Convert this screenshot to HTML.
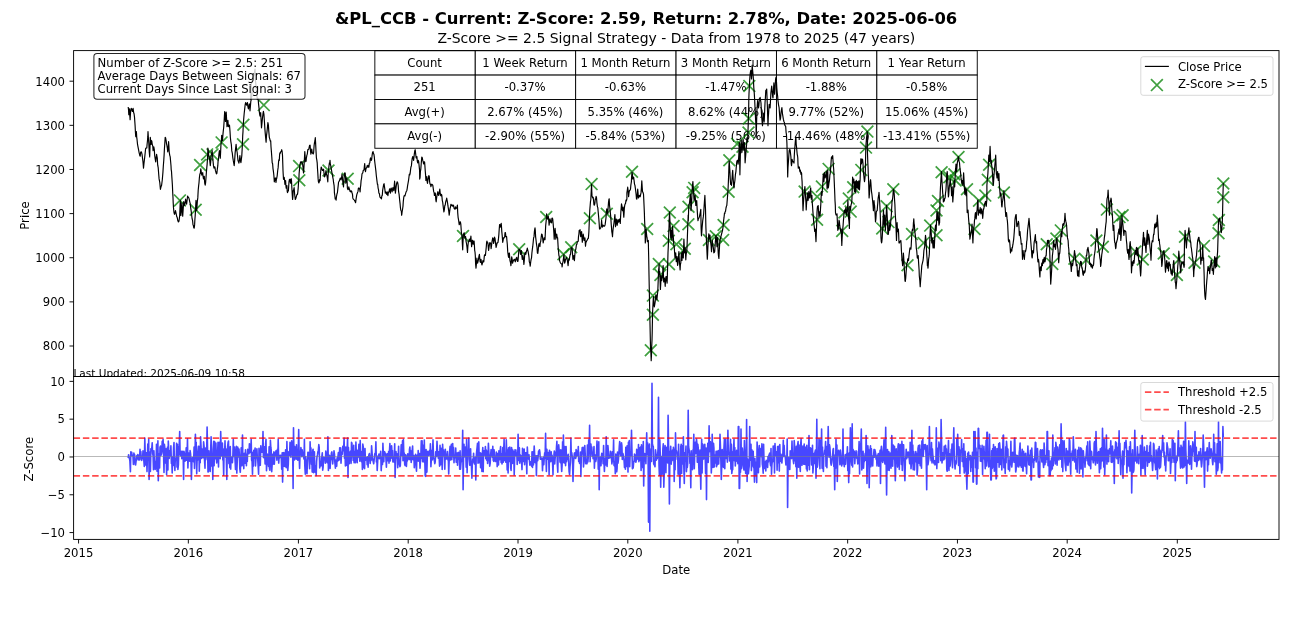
<!DOCTYPE html>
<html lang="en"><head><meta charset="utf-8"><title>&amp;PL_CCB Z-Score Signal Strategy</title>
<style>html,body{margin:0;padding:0;background:#fff;overflow:hidden}svg{display:block}text{font-family:"DejaVu Sans","Liberation Sans",sans-serif;fill:#000}</style></head><body>
<svg width="1292" height="634" viewBox="0 0 1292 634">
<rect width="1292" height="634" fill="#fff"/>
<defs>
<clipPath id="c1"><rect x="73.6" y="50.6" width="1205.4" height="325.9"/></clipPath>
<clipPath id="c2"><rect x="73.6" y="376.5" width="1205.4" height="162.89999999999998"/></clipPath>
</defs>
<g id="table" stroke="#000" stroke-width="0.93" fill="#fff">
<rect x="374.85" y="50.70" width="100.40" height="24.39"/>
<rect x="475.25" y="50.70" width="100.40" height="24.39"/>
<rect x="575.65" y="50.70" width="100.40" height="24.39"/>
<rect x="676.05" y="50.70" width="100.40" height="24.39"/>
<rect x="776.45" y="50.70" width="100.40" height="24.39"/>
<rect x="876.85" y="50.70" width="100.40" height="24.39"/>
<rect x="374.85" y="75.09" width="100.40" height="24.39"/>
<rect x="475.25" y="75.09" width="100.40" height="24.39"/>
<rect x="575.65" y="75.09" width="100.40" height="24.39"/>
<rect x="676.05" y="75.09" width="100.40" height="24.39"/>
<rect x="776.45" y="75.09" width="100.40" height="24.39"/>
<rect x="876.85" y="75.09" width="100.40" height="24.39"/>
<rect x="374.85" y="99.48" width="100.40" height="24.39"/>
<rect x="475.25" y="99.48" width="100.40" height="24.39"/>
<rect x="575.65" y="99.48" width="100.40" height="24.39"/>
<rect x="676.05" y="99.48" width="100.40" height="24.39"/>
<rect x="776.45" y="99.48" width="100.40" height="24.39"/>
<rect x="876.85" y="99.48" width="100.40" height="24.39"/>
<rect x="374.85" y="123.87" width="100.40" height="24.39"/>
<rect x="475.25" y="123.87" width="100.40" height="24.39"/>
<rect x="575.65" y="123.87" width="100.40" height="24.39"/>
<rect x="676.05" y="123.87" width="100.40" height="24.39"/>
<rect x="776.45" y="123.87" width="100.40" height="24.39"/>
<rect x="876.85" y="123.87" width="100.40" height="24.39"/>
</g>
<g id="tabletext" font-size="11.67px" text-anchor="middle">
<text x="424.65" y="66.80">Count</text>
<text x="525.05" y="66.80">1 Week Return</text>
<text x="625.45" y="66.80">1 Month Return</text>
<text x="725.85" y="66.80">3 Month Return</text>
<text x="826.25" y="66.80">6 Month Return</text>
<text x="926.65" y="66.80">1 Year Return</text>
<text x="424.65" y="91.19">251</text>
<text x="525.05" y="91.19">-0.37%</text>
<text x="625.45" y="91.19">-0.63%</text>
<text x="725.85" y="91.19">-1.47%</text>
<text x="826.25" y="91.19">-1.88%</text>
<text x="926.65" y="91.19">-0.58%</text>
<text x="424.65" y="115.58">Avg(+)</text>
<text x="525.05" y="115.58">2.67% (45%)</text>
<text x="625.45" y="115.58">5.35% (46%)</text>
<text x="725.85" y="115.58">8.62% (44%)</text>
<text x="826.25" y="115.58">9.77% (52%)</text>
<text x="926.65" y="115.58">15.06% (45%)</text>
<text x="424.65" y="139.97">Avg(-)</text>
<text x="525.05" y="139.97">-2.90% (55%)</text>
<text x="625.45" y="139.97">-5.84% (53%)</text>
<text x="725.85" y="139.97">-9.25% (56%)</text>
<text x="826.25" y="139.97">-14.46% (48%)</text>
<text x="926.65" y="139.97">-13.41% (55%)</text>
</g>
<g id="signals" stroke="#008000" stroke-opacity="0.75" stroke-width="1.75" fill="none" clip-path="url(#c1)">
<path d="M174.0 194.5l11.8 11.8m-11.8 0l11.8 -11.8"/>
<path d="M189.8 203.9l11.8 11.8m-11.8 0l11.8 -11.8"/>
<path d="M194.2 159.1l11.8 11.8m-11.8 0l11.8 -11.8"/>
<path d="M201.2 148.5l11.8 11.8m-11.8 0l11.8 -11.8"/>
<path d="M206.6 148.5l11.8 11.8m-11.8 0l11.8 -11.8"/>
<path d="M215.7 136.5l11.8 11.8m-11.8 0l11.8 -11.8"/>
<path d="M237.5 118.8l11.8 11.8m-11.8 0l11.8 -11.8"/>
<path d="M237.1 138.4l11.8 11.8m-11.8 0l11.8 -11.8"/>
<path d="M257.9 99.2l11.8 11.8m-11.8 0l11.8 -11.8"/>
<path d="M293.2 160.2l11.8 11.8m-11.8 0l11.8 -11.8"/>
<path d="M293.4 174.4l11.8 11.8m-11.8 0l11.8 -11.8"/>
<path d="M322.6 164.6l11.8 11.8m-11.8 0l11.8 -11.8"/>
<path d="M341.8 172.8l11.8 11.8m-11.8 0l11.8 -11.8"/>
<path d="M457.1 230.1l11.8 11.8m-11.8 0l11.8 -11.8"/>
<path d="M513.3 243.3l11.8 11.8m-11.8 0l11.8 -11.8"/>
<path d="M540.3 211.1l11.8 11.8m-11.8 0l11.8 -11.8"/>
<path d="M557.5 248.4l11.8 11.8m-11.8 0l11.8 -11.8"/>
<path d="M565.3 241.4l11.8 11.8m-11.8 0l11.8 -11.8"/>
<path d="M584.0 212.4l11.8 11.8m-11.8 0l11.8 -11.8"/>
<path d="M585.7 178.2l11.8 11.8m-11.8 0l11.8 -11.8"/>
<path d="M600.9 207.8l11.8 11.8m-11.8 0l11.8 -11.8"/>
<path d="M626.1 165.9l11.8 11.8m-11.8 0l11.8 -11.8"/>
<path d="M641.3 223.1l11.8 11.8m-11.8 0l11.8 -11.8"/>
<path d="M647.0 289.7l11.8 11.8m-11.8 0l11.8 -11.8"/>
<path d="M647.0 308.8l11.8 11.8m-11.8 0l11.8 -11.8"/>
<path d="M644.9 344.4l11.8 11.8m-11.8 0l11.8 -11.8"/>
<path d="M652.9 258.1l11.8 11.8m-11.8 0l11.8 -11.8"/>
<path d="M654.5 269.1l11.8 11.8m-11.8 0l11.8 -11.8"/>
<path d="M663.1 258.4l11.8 11.8m-11.8 0l11.8 -11.8"/>
<path d="M662.9 234.9l11.8 11.8m-11.8 0l11.8 -11.8"/>
<path d="M663.9 206.6l11.8 11.8m-11.8 0l11.8 -11.8"/>
<path d="M667.7 220.1l11.8 11.8m-11.8 0l11.8 -11.8"/>
<path d="M670.5 238.4l11.8 11.8m-11.8 0l11.8 -11.8"/>
<path d="M678.9 242.9l11.8 11.8m-11.8 0l11.8 -11.8"/>
<path d="M682.5 218.3l11.8 11.8m-11.8 0l11.8 -11.8"/>
<path d="M682.6 200.9l11.8 11.8m-11.8 0l11.8 -11.8"/>
<path d="M686.7 186.4l11.8 11.8m-11.8 0l11.8 -11.8"/>
<path d="M688.3 182.0l11.8 11.8m-11.8 0l11.8 -11.8"/>
<path d="M703.0 234.1l11.8 11.8m-11.8 0l11.8 -11.8"/>
<path d="M709.9 230.4l11.8 11.8m-11.8 0l11.8 -11.8"/>
<path d="M717.7 219.1l11.8 11.8m-11.8 0l11.8 -11.8"/>
<path d="M717.2 234.0l11.8 11.8m-11.8 0l11.8 -11.8"/>
<path d="M723.4 154.3l11.8 11.8m-11.8 0l11.8 -11.8"/>
<path d="M722.7 185.8l11.8 11.8m-11.8 0l11.8 -11.8"/>
<path d="M731.2 138.0l11.8 11.8m-11.8 0l11.8 -11.8"/>
<path d="M736.6 140.8l11.8 11.8m-11.8 0l11.8 -11.8"/>
<path d="M742.6 126.7l11.8 11.8m-11.8 0l11.8 -11.8"/>
<path d="M742.9 112.6l11.8 11.8m-11.8 0l11.8 -11.8"/>
<path d="M743.4 80.1l11.8 11.8m-11.8 0l11.8 -11.8"/>
<path d="M798.7 185.7l11.8 11.8m-11.8 0l11.8 -11.8"/>
<path d="M811.3 190.8l11.8 11.8m-11.8 0l11.8 -11.8"/>
<path d="M811.2 213.9l11.8 11.8m-11.8 0l11.8 -11.8"/>
<path d="M816.0 180.7l11.8 11.8m-11.8 0l11.8 -11.8"/>
<path d="M822.7 163.0l11.8 11.8m-11.8 0l11.8 -11.8"/>
<path d="M836.3 225.0l11.8 11.8m-11.8 0l11.8 -11.8"/>
<path d="M838.5 206.6l11.8 11.8m-11.8 0l11.8 -11.8"/>
<path d="M842.9 192.7l11.8 11.8m-11.8 0l11.8 -11.8"/>
<path d="M844.8 205.7l11.8 11.8m-11.8 0l11.8 -11.8"/>
<path d="M847.3 181.3l11.8 11.8m-11.8 0l11.8 -11.8"/>
<path d="M876.3 222.5l11.8 11.8m-11.8 0l11.8 -11.8"/>
<path d="M880.7 200.3l11.8 11.8m-11.8 0l11.8 -11.8"/>
<path d="M882.6 216.2l11.8 11.8m-11.8 0l11.8 -11.8"/>
<path d="M887.4 183.3l11.8 11.8m-11.8 0l11.8 -11.8"/>
<path d="M901.6 259.4l11.8 11.8m-11.8 0l11.8 -11.8"/>
<path d="M906.1 228.2l11.8 11.8m-11.8 0l11.8 -11.8"/>
<path d="M917.7 237.0l11.8 11.8m-11.8 0l11.8 -11.8"/>
<path d="M924.3 219.7l11.8 11.8m-11.8 0l11.8 -11.8"/>
<path d="M930.6 229.4l11.8 11.8m-11.8 0l11.8 -11.8"/>
<path d="M930.6 204.5l11.8 11.8m-11.8 0l11.8 -11.8"/>
<path d="M932.1 195.1l11.8 11.8m-11.8 0l11.8 -11.8"/>
<path d="M935.7 166.4l11.8 11.8m-11.8 0l11.8 -11.8"/>
<path d="M943.4 171.4l11.8 11.8m-11.8 0l11.8 -11.8"/>
<path d="M948.5 168.3l11.8 11.8m-11.8 0l11.8 -11.8"/>
<path d="M949.7 174.6l11.8 11.8m-11.8 0l11.8 -11.8"/>
<path d="M952.6 151.2l11.8 11.8m-11.8 0l11.8 -11.8"/>
<path d="M961.1 183.4l11.8 11.8m-11.8 0l11.8 -11.8"/>
<path d="M968.6 223.1l11.8 11.8m-11.8 0l11.8 -11.8"/>
<path d="M973.1 194.8l11.8 11.8m-11.8 0l11.8 -11.8"/>
<path d="M979.4 189.7l11.8 11.8m-11.8 0l11.8 -11.8"/>
<path d="M981.9 173.9l11.8 11.8m-11.8 0l11.8 -11.8"/>
<path d="M983.2 158.8l11.8 11.8m-11.8 0l11.8 -11.8"/>
<path d="M998.0 186.6l11.8 11.8m-11.8 0l11.8 -11.8"/>
<path d="M1040.8 238.4l11.8 11.8m-11.8 0l11.8 -11.8"/>
<path d="M1046.4 258.0l11.8 11.8m-11.8 0l11.8 -11.8"/>
<path d="M1050.5 232.7l11.8 11.8m-11.8 0l11.8 -11.8"/>
<path d="M1054.9 224.5l11.8 11.8m-11.8 0l11.8 -11.8"/>
<path d="M1068.5 252.9l11.8 11.8m-11.8 0l11.8 -11.8"/>
<path d="M1080.2 254.1l11.8 11.8m-11.8 0l11.8 -11.8"/>
<path d="M1090.5 234.6l11.8 11.8m-11.8 0l11.8 -11.8"/>
<path d="M1096.9 240.9l11.8 11.8m-11.8 0l11.8 -11.8"/>
<path d="M1101.0 203.7l11.8 11.8m-11.8 0l11.8 -11.8"/>
<path d="M1113.6 211.2l11.8 11.8m-11.8 0l11.8 -11.8"/>
<path d="M1116.7 209.3l11.8 11.8m-11.8 0l11.8 -11.8"/>
<path d="M1129.4 245.7l11.8 11.8m-11.8 0l11.8 -11.8"/>
<path d="M1136.9 253.6l11.8 11.8m-11.8 0l11.8 -11.8"/>
<path d="M1157.8 247.6l11.8 11.8m-11.8 0l11.8 -11.8"/>
<path d="M1171.0 269.1l11.8 11.8m-11.8 0l11.8 -11.8"/>
<path d="M1172.9 253.6l11.8 11.8m-11.8 0l11.8 -11.8"/>
<path d="M1179.1 230.9l11.8 11.8m-11.8 0l11.8 -11.8"/>
<path d="M1188.6 256.8l11.8 11.8m-11.8 0l11.8 -11.8"/>
<path d="M1198.1 240.0l11.8 11.8m-11.8 0l11.8 -11.8"/>
<path d="M1208.2 255.7l11.8 11.8m-11.8 0l11.8 -11.8"/>
<path d="M1212.6 227.3l11.8 11.8m-11.8 0l11.8 -11.8"/>
<path d="M1213.0 214.1l11.8 11.8m-11.8 0l11.8 -11.8"/>
<path d="M1217.4 191.3l11.8 11.8m-11.8 0l11.8 -11.8"/>
<path d="M1217.4 177.6l11.8 11.8m-11.8 0l11.8 -11.8"/>
<path d="M860.1 141.7l11.8 11.8m-11.8 0l11.8 -11.8"/>
<path d="M861.5 125.7l11.8 11.8m-11.8 0l11.8 -11.8"/>
<path d="M855.4 164.0l11.8 11.8m-11.8 0l11.8 -11.8"/>
</g>
<path id="price" d="M128.2 107.0L128.5 109.5L128.8 114.6L129.1 112.2L129.5 108.9L129.8 115.4L130.1 119.7L130.4 114.7L130.7 110.8L131.2 108.4L131.6 108.9L132.0 110.1L132.4 111.5L132.7 110.4L133.1 108.3L133.6 112.3L134.1 114.0L134.5 117.1L134.9 122.8L135.1 125.8L135.4 131.6L135.6 134.9L135.8 136.7L136.1 134.7L136.4 131.6L136.7 137.1L137.0 139.2L137.5 144.1L138.0 146.8L138.6 149.8L139.2 153.1L139.5 154.1L139.8 155.6L140.2 156.2L140.6 152.5L141.0 151.8L141.4 151.8L142.0 154.1L142.5 158.1L143.0 161.9L143.5 168.2L144.0 163.3L144.6 158.1L145.1 153.6L145.6 148.7L146.2 148.0L146.8 148.0L147.1 144.2L147.5 140.5L147.8 136.4L148.0 131.6L148.4 138.1L148.8 143.0L149.2 151.1L149.7 156.9L150.3 137.3L150.7 141.0L151.2 144.3L151.5 140.7L151.8 141.1L152.2 144.1L152.6 145.5L152.8 146.5L153.1 150.6L153.4 148.5L153.8 146.8L154.3 149.6L154.7 155.6L155.2 158.8L155.7 161.9L156.2 157.3L156.6 154.3L157.0 156.5L157.3 158.1L157.6 164.1L157.8 165.7L158.0 166.6L158.2 167.6L158.7 174.2L159.1 178.9L159.8 182.6L160.4 189.3L161.0 186.9L161.6 185.2L162.3 179.7L162.9 172.6L163.3 166.2L163.8 160.0L164.1 155.1L164.4 149.3L164.8 143.4L165.2 137.3L165.6 137.8L166.1 140.5L166.5 143.6L166.9 145.5L167.3 147.8L167.7 151.8L168.1 148.8L168.6 141.7L168.9 146.2L169.2 151.8L169.7 155.1L170.2 156.9L170.6 161.3L171.0 165.7L171.2 169.6L171.5 171.4L171.9 177.6L172.4 185.2L172.7 192.6L173.0 197.8L173.2 202.8L173.5 207.9L174.0 212.5L174.5 214.3L175.0 213.1L175.5 210.5L176.2 213.8L176.8 216.8L177.3 217.8L177.8 220.6L178.4 221.9L178.9 221.4L179.3 219.0L179.7 215.5L180.3 200.4L180.9 215.5L181.4 211.0L181.8 202.9L182.3 209.1L182.7 216.2L183.7 201.6L184.2 204.1L184.6 205.4L185.1 202.8L185.6 199.1L186.1 202.0L186.6 204.2L187.1 200.3L187.6 196.0L188.2 197.1L188.8 197.8L189.2 199.1L189.7 201.6L190.2 203.7L190.7 207.9L191.2 211.3L191.7 215.5L192.1 218.7L192.6 220.6L193.0 224.8L193.4 225.6L193.8 228.0L194.2 228.1L194.6 224.9L194.9 219.3L195.2 215.7L195.5 210.5L195.7 206.2L196.0 200.4L196.3 205.6L196.7 210.5L197.0 206.9L197.3 201.6L197.8 197.9L198.2 190.3L198.6 186.1L199.0 182.7L199.4 177.5L199.9 173.9L200.3 173.5L200.8 168.8L201.3 172.3L201.8 175.1L202.2 174.9L202.7 172.6L203.1 176.7L203.5 178.9L203.9 176.4L204.3 176.4L204.7 183.0L205.2 185.2L205.6 182.8L206.1 176.4L206.4 172.2L206.8 167.6L207.1 164.6L207.4 160.0L207.7 154.2L207.9 148.0L208.3 150.9L208.7 155.6L209.2 157.4L209.6 159.4L210.0 163.0L210.3 165.7L210.7 161.9L211.1 155.6L211.6 153.9L212.1 150.6L212.6 155.7L213.0 160.7L213.5 165.9L214.0 168.2L214.4 166.8L214.9 167.0L215.4 170.4L215.9 172.0L216.4 173.9L216.9 173.3L217.3 169.2L217.8 165.7L218.1 160.9L218.4 160.0L218.9 154.3L219.4 150.6L219.9 154.6L220.3 158.1L220.6 152.4L220.9 145.5L221.3 142.2L221.7 135.4L222.1 136.8L222.5 140.5L222.8 136.1L223.2 131.6L223.7 127.3L224.1 121.5L224.4 116.3L224.7 111.5L225.1 114.3L225.5 121.5L225.9 117.7L226.2 112.1L227.0 126.6L227.4 125.6L227.9 120.3L228.2 124.5L228.5 126.6L229.0 125.0L229.5 125.3L230.0 131.2L230.4 137.9L230.8 141.3L231.3 144.3L231.8 150.9L232.3 153.1L232.8 157.6L233.3 160.7L233.8 163.3L234.2 165.7L234.6 161.1L235.1 153.1L235.6 148.6L236.1 144.3L236.6 150.1L237.1 151.8L237.5 155.5L238.0 160.7L238.4 161.4L238.9 163.2L239.4 160.2L239.9 155.6L240.4 160.7L240.9 162.6L241.3 159.8L241.8 155.6L242.1 150.3L242.4 144.3L242.7 135.9L243.0 131.6L243.3 124.5L243.7 119.0L244.2 113.3L244.7 108.9L245.1 105.2L245.6 102.6L246.1 104.5L246.6 105.1L247.0 103.5L247.4 102.6L247.9 106.6L248.4 108.9L248.9 106.5L249.3 103.9L249.7 107.0L250.0 110.8L250.4 106.2L250.8 101.4L251.2 99.9L251.5 97.6L251.9 96.0L252.2 92.5L250.6 99.4L250.9 90.0L251.1 86.5L251.3 84.0L251.9 81.7L252.5 80.0L253.0 76.5L253.5 76.0L254.2 74.3L255.0 69.0L255.2 76.1L255.4 80.0L255.9 84.8L256.3 90.0L256.8 94.2L257.3 99.4L257.7 98.1L258.2 99.5L258.6 104.4L259.1 108.9L259.4 112.3L259.8 115.2L260.2 116.2L260.7 112.7L261.5 127.8L262.0 123.0L262.5 117.7L263.0 113.7L263.4 111.4L263.9 114.1L264.4 121.3L264.9 129.1L265.3 133.9L265.7 138.2L266.1 142.1L266.5 135.6L266.9 132.6L267.4 127.8L267.9 122.5L268.4 125.2L268.8 131.4L269.3 137.3L269.8 138.9L270.3 141.1L270.7 140.8L271.0 146.8L271.4 151.6L271.8 157.0L272.2 162.9L272.6 163.5L273.0 168.6L273.3 170.7L273.6 173.0L273.9 175.7L274.3 181.8L274.7 180.6L275.1 178.0L275.6 178.1L276.0 182.5L276.4 179.3L276.8 178.0L277.2 175.6L277.7 170.5L278.1 167.9L278.6 161.6L278.9 159.7L279.3 160.4L279.6 154.9L279.9 152.8L280.4 153.1L280.8 151.6L281.3 151.5L281.7 149.7L282.1 151.4L282.5 155.3L283.0 170.5L283.2 174.1L283.5 179.3L283.9 177.6L284.2 177.4L284.5 179.6L284.9 184.3L285.2 181.7L285.6 180.6L285.9 185.7L286.2 188.1L286.6 187.6L286.9 185.6L287.2 191.3L287.5 192.6L287.9 191.5L288.4 190.7L288.7 186.1L289.0 181.8L289.4 179.5L289.8 179.3L290.2 181.1L290.5 183.1L290.9 179.4L291.2 178.7L291.5 180.8L291.8 186.9L292.2 194.0L292.6 199.5L292.9 196.7L293.2 190.7L293.6 190.0L294.1 187.5L294.7 195.0L295.3 199.5L296.0 197.9L296.6 195.7L297.0 194.3L297.5 194.4L297.9 191.4L298.2 188.1L298.5 183.3L298.9 179.3L299.1 173.7L299.4 170.5L299.8 165.5L300.1 164.2L300.6 161.9L301.0 162.9L301.4 162.3L301.9 161.6L302.3 163.1L302.6 164.2L303.1 168.1L303.5 173.0L303.8 169.5L304.2 162.9L304.5 157.4L304.8 151.6L305.2 157.2L305.7 161.6L306.1 161.1L306.4 157.8L306.9 155.1L307.3 154.1L307.8 149.7L308.3 149.7L308.8 149.2L309.2 147.1L309.6 145.4L310.1 145.2L310.5 151.1L310.9 154.1L311.3 151.9L311.7 149.0L312.2 152.3L312.7 153.4L313.2 154.0L313.6 152.8L314.1 145.6L314.5 142.7L314.9 141.0L315.3 137.7L315.6 142.6L315.9 149.0L316.1 152.6L316.4 157.8L316.8 159.9L317.2 162.9L317.5 168.8L317.8 173.0L318.1 178.4L318.4 181.8L318.9 182.9L319.3 181.8L319.7 179.4L320.1 180.6L320.4 174.9L320.8 170.5L321.2 167.0L321.6 167.9L322.0 169.1L322.5 170.5L323.0 170.5L323.5 169.2L323.9 172.2L324.4 176.8L324.8 176.4L325.2 175.5L325.6 173.2L326.0 170.5L326.4 174.1L326.9 175.5L327.3 177.8L327.8 181.8L328.1 175.2L328.5 170.5L329.0 165.8L329.4 162.9L329.7 163.6L330.0 160.4L330.3 164.1L330.7 165.4L331.1 167.8L331.6 170.5L331.9 172.6L332.3 174.3L332.7 176.9L333.2 179.3L333.6 182.7L334.1 185.6L334.3 188.9L334.4 192.6L334.8 195.3L335.2 198.9L335.6 198.1L336.1 200.1L336.5 196.3L337.0 193.8L337.4 192.8L337.9 188.1L338.2 185.6L338.6 181.8L339.1 181.3L339.5 180.6L339.9 179.1L340.4 178.0L340.8 179.1L341.1 179.9L341.6 177.5L342.0 174.3L342.4 177.3L342.8 181.8L343.2 184.6L343.5 186.9L343.9 180.8L344.3 174.3L344.7 172.8L345.2 173.0L345.5 177.2L345.8 183.1L346.3 179.5L346.8 178.0L347.1 181.9L347.4 188.1L347.9 189.7L348.3 189.4L348.8 186.9L349.2 188.8L349.6 189.7L350.0 191.3L350.4 190.9L350.9 191.9L351.3 190.9L351.7 191.3L352.1 193.0L352.5 194.4L352.8 197.9L353.1 198.9L353.8 199.6L354.4 200.1L355.0 201.2L355.6 202.7L356.2 198.2L356.7 195.1L357.1 193.7L357.5 192.6L358.0 191.4L358.4 188.1L358.9 188.0L359.3 188.8L359.7 189.1L360.1 191.9L360.4 187.4L360.7 185.6L361.1 180.6L361.6 178.0L362.0 174.0L362.5 173.0L362.8 172.9L363.2 170.5L363.7 170.2L364.1 169.2L364.4 166.1L364.7 163.5L365.1 169.2L365.5 171.7L365.9 169.1L366.4 167.9L366.8 167.5L367.3 165.4L367.7 166.9L368.1 166.7L368.5 165.3L368.9 167.3L369.3 163.4L369.8 162.9L370.2 159.4L370.5 157.8L370.9 160.1L371.3 160.4L371.7 159.3L372.1 155.3L372.6 152.1L373.1 151.6L373.5 154.0L373.9 154.1L374.3 156.8L374.6 160.4L375.0 163.7L375.5 167.9L375.9 171.1L376.3 175.5L376.8 179.6L377.4 184.3L377.7 184.2L378.1 188.1L378.5 189.6L378.9 193.2L379.4 193.7L379.9 197.0L380.4 197.8L380.9 197.6L381.4 198.9L381.9 195.7L382.3 195.4L382.6 190.7L383.2 187.1L383.7 184.3L384.1 183.7L384.5 186.9L384.9 189.6L385.3 193.2L385.7 191.8L386.2 192.6L386.7 194.4L387.2 191.9L387.6 194.4L387.9 195.7L388.3 193.0L388.7 191.9L389.1 191.4L389.6 188.8L390.0 191.6L390.4 193.2L390.8 188.9L391.2 188.1L391.7 189.4L392.1 191.9L392.5 189.5L392.9 187.5L393.3 189.1L393.8 190.7L394.2 186.1L394.6 181.2L395.0 186.8L395.4 193.2L395.8 189.6L396.3 185.6L396.7 183.1L397.2 181.8L397.7 182.7L398.2 185.6L398.6 191.7L399.1 194.4L399.6 199.6L400.1 203.9L400.4 207.5L400.8 210.2L401.3 211.0L401.7 215.3L402.1 211.9L402.6 209.0L403.0 206.1L403.3 201.4L403.8 197.1L404.2 195.7L404.9 196.0L405.5 193.8L406.1 191.8L406.8 190.7L407.2 188.6L407.6 185.6L408.1 182.9L408.5 180.6L408.9 177.7L409.3 174.3L409.7 175.0L410.2 173.0L410.6 169.4L411.0 166.7L411.4 165.9L411.8 161.6L412.2 158.3L412.7 156.6L413.1 157.5L413.6 160.4L413.9 158.0L414.3 154.1L414.8 150.7L415.2 149.7L415.6 153.3L416.1 157.8L416.5 158.2L416.9 156.6L417.3 161.1L417.7 162.9L418.2 160.3L418.7 161.6L419.2 166.6L419.6 170.5L419.7 179.1L420.1 177.4L420.4 171.6L420.8 169.1L421.2 164.0L421.5 160.2L421.8 157.0L422.3 157.9L422.7 160.2L423.2 161.8L423.6 164.0L424.1 161.8L424.6 162.1L424.9 165.9L425.2 170.3L425.6 175.1L425.9 180.4L426.3 178.3L426.8 176.6L427.1 181.4L427.5 183.5L427.9 180.4L428.4 177.8L428.8 175.6L429.3 176.6L429.6 181.5L430.0 184.2L430.5 184.2L430.9 186.7L431.4 184.9L431.8 184.2L432.3 184.6L432.8 185.4L433.2 188.2L433.7 191.7L434.1 192.5L434.4 195.5L434.9 194.0L435.3 193.0L435.8 199.6L436.2 201.8L436.6 198.0L437.0 195.5L437.4 193.5L437.9 191.7L438.3 194.9L438.7 195.5L439.2 193.2L439.8 189.2L440.2 193.2L440.6 195.5L441.0 195.8L441.4 194.3L441.8 195.3L442.3 200.6L442.7 202.1L443.1 205.6L443.5 208.9L443.9 211.9L444.4 209.3L444.8 205.6L445.2 205.1L445.7 201.8L446.2 200.5L446.7 198.0L447.1 200.3L447.6 203.1L447.9 205.7L448.3 208.1L448.8 211.4L449.2 215.1L449.6 211.9L450.1 208.1L450.5 207.0L450.9 204.3L451.3 204.6L451.7 205.6L452.2 205.0L452.7 206.2L453.2 205.0L453.6 205.6L454.1 208.4L454.5 208.8L455.0 209.2L455.5 206.9L456.0 208.6L456.4 208.1L456.9 207.5L457.4 205.0L457.7 212.6L458.1 217.3L458.6 220.2L458.9 222.4L459.2 224.6L459.6 224.1L459.9 222.1L460.4 221.9L460.8 224.0L461.1 228.2L461.4 232.8L461.8 234.5L462.1 237.8L462.4 244.6L462.7 249.8L463.3 235.3L463.8 233.4L464.2 232.8L464.5 235.2L464.9 237.8L465.2 237.7L465.6 236.6L466.1 241.6L466.5 243.5L467.0 247.1L467.5 252.4L467.9 246.0L468.4 241.6L468.8 241.3L469.3 239.1L469.6 239.2L470.0 241.6L470.5 239.3L470.9 236.0L471.2 240.7L471.6 246.7L472.0 243.4L472.4 240.4L472.8 240.3L473.2 244.2L473.6 243.4L474.1 241.0L474.4 245.2L474.7 250.5L475.0 252.0L475.3 255.5L475.6 264.0L476.0 268.1L476.4 263.9L476.9 258.0L477.2 262.8L477.6 263.1L478.0 261.6L478.5 259.3L478.9 256.4L479.4 254.3L479.8 258.2L480.1 261.8L480.6 262.3L481.0 259.3L481.4 262.1L481.9 265.0L482.4 263.3L482.9 260.6L483.3 261.8L483.8 261.8L484.2 257.4L484.5 254.9L485.0 255.3L485.4 255.5L485.9 250.6L486.3 246.7L486.6 242.5L486.9 241.0L487.4 242.9L487.9 242.9L488.3 247.4L488.6 250.5L489.0 247.4L489.5 244.2L489.8 242.5L490.2 242.9L490.7 243.5L491.1 248.6L491.5 245.6L492.0 241.6L492.4 239.6L492.7 237.8L493.2 238.8L493.6 243.5L494.1 240.3L494.5 237.2L495.0 238.4L495.5 242.9L495.8 245.1L496.1 247.3L496.6 245.3L497.0 242.9L497.5 243.0L498.0 242.3L498.5 238.4L498.9 234.1L499.2 229.5L499.6 224.6L499.9 224.6L500.3 227.1L500.8 224.8L501.2 223.3L501.5 226.9L501.8 231.6L502.3 236.7L502.7 242.3L503.1 240.4L503.5 237.8L503.9 238.2L504.4 237.2L504.7 236.8L505.0 232.8L505.4 232.5L505.9 236.6L506.2 237.0L506.6 236.6L506.9 240.2L507.3 244.2L507.7 251.4L508.1 254.3L508.5 256.9L508.8 257.4L509.1 253.4L509.4 253.0L509.7 257.2L510.0 260.6L510.5 262.5L510.9 265.6L511.3 262.3L511.7 256.8L512.1 258.8L512.6 263.1L513.0 261.7L513.4 260.6L513.9 259.8L514.5 259.3L514.9 260.5L515.3 261.8L515.8 259.3L516.3 258.0L516.8 257.3L517.2 260.6L517.6 261.4L518.0 261.2L518.4 256.3L518.9 249.2L519.3 249.4L519.8 249.8L520.1 250.9L520.5 254.3L520.9 252.6L521.4 250.5L521.8 255.5L522.3 259.3L522.6 257.2L523.0 255.5L523.5 259.9L523.9 264.4L524.3 260.2L524.8 253.0L525.3 252.4L525.8 254.3L526.3 251.8L526.8 250.5L527.3 248.1L527.7 249.8L528.1 251.3L528.6 254.3L529.0 257.2L529.3 261.8L529.8 263.0L530.2 266.2L530.7 262.0L531.1 259.3L531.5 258.1L531.9 253.0L532.3 249.6L532.7 246.7L533.2 242.1L533.6 237.8L534.0 236.9L534.4 231.6L534.7 229.6L535.0 227.8L535.3 230.3L535.6 236.6L536.1 240.8L536.5 244.2L537.0 247.5L537.4 253.0L537.8 253.5L538.2 250.5L538.6 245.6L539.0 243.5L539.5 244.5L539.9 246.7L540.3 242.4L540.7 241.6L541.1 238.0L541.6 234.1L542.0 234.2L542.5 236.6L542.8 239.7L543.2 242.9L543.7 240.0L544.1 237.8L544.5 238.1L545.0 239.8L545.7 225.2L546.2 220.6L546.6 213.9L547.1 217.4L547.5 218.9L547.9 217.7L548.3 216.4L548.7 219.8L549.1 225.2L549.6 220.9L550.0 218.9L550.5 221.1L551.0 222.7L551.5 222.7L551.9 218.3L552.3 218.1L552.7 218.9L553.1 223.1L553.6 229.0L553.9 233.3L554.2 239.1L554.6 232.6L555.1 228.4L555.5 232.7L555.8 239.1L556.3 236.4L556.7 234.1L557.2 237.5L557.6 237.8L557.9 242.9L558.2 247.9L558.5 251.2L558.9 255.5L559.2 256.3L559.6 260.6L560.1 262.1L560.5 263.1L560.9 263.4L561.4 263.7L561.8 264.0L562.1 266.9L562.6 263.2L563.0 261.8L563.5 258.0L563.9 254.3L564.3 259.8L564.7 263.1L565.1 261.9L565.5 259.3L566.0 258.6L566.4 257.4L566.9 258.6L567.4 260.6L567.8 263.4L568.1 265.6L568.4 262.5L568.7 259.3L569.2 260.2L569.7 256.8L570.2 254.3L570.6 254.3L570.9 250.4L571.2 247.3L571.7 249.0L572.1 247.9L572.5 253.3L572.9 259.3L573.3 259.0L573.8 255.5L574.1 258.0L574.4 260.6L574.7 256.9L575.0 253.0L575.5 250.4L575.9 248.6L576.4 244.9L576.9 244.2L577.3 241.8L577.8 241.6L578.2 241.3L578.5 236.6L578.9 234.1L579.2 230.3L579.6 230.6L580.1 229.7L580.4 234.2L580.7 236.6L581.1 234.7L581.6 231.6L582.0 238.0L582.3 242.3L582.8 237.9L583.2 234.1L583.7 237.0L584.1 240.4L584.5 240.2L584.9 237.8L585.2 241.6L585.5 246.1L585.9 242.4L586.4 241.6L586.9 240.4L587.4 239.8L587.8 238.5L588.3 238.5L588.6 235.7L588.9 231.6L589.5 216.4L589.8 209.9L590.2 205.1L590.5 201.4L590.8 200.0L590.8 200.0L591.1 193.5L591.4 187.8L591.6 184.1L591.8 191.5L592.0 195.4L592.3 196.6L592.6 197.9L592.9 197.8L593.2 197.3L593.6 200.8L593.9 204.3L594.1 205.0L594.4 205.1L594.9 203.0L595.3 198.8L595.7 199.1L596.1 196.3L596.5 197.6L596.9 202.6L597.4 206.6L597.8 207.6L598.2 212.0L598.6 216.4L598.9 219.9L599.2 224.0L599.5 228.7L599.8 229.1L600.3 228.3L600.7 227.8L601.2 226.2L601.6 220.2L602.0 224.8L602.4 227.2L602.8 225.1L603.2 225.3L603.7 226.1L604.1 225.9L604.6 226.1L605.1 224.7L605.6 221.0L606.0 217.7L606.4 211.1L606.8 208.9L607.2 211.0L607.7 213.9L608.1 208.0L608.5 202.6L608.9 199.5L609.2 198.8L609.5 205.2L609.8 207.6L610.2 211.1L610.6 215.2L610.9 219.2L611.2 224.0L611.5 227.5L611.8 231.6L612.1 233.3L612.5 236.6L612.8 232.0L613.1 229.1L613.5 226.0L614.0 222.8L614.4 219.0L614.9 214.6L615.2 220.0L615.5 226.6L615.9 222.7L616.2 219.0L616.7 220.6L617.1 225.3L617.6 223.0L618.0 219.6L618.4 220.0L618.8 222.1L619.2 220.8L619.6 219.0L620.0 220.2L620.3 223.4L620.6 216.8L620.9 211.4L621.2 207.9L621.5 203.8L621.9 205.7L622.3 210.1L622.7 210.8L623.1 207.0L623.4 212.0L623.8 217.1L624.1 212.9L624.3 208.9L624.7 205.5L625.1 203.8L625.5 203.7L626.0 200.1L626.4 200.9L626.9 198.8L626.9 192.9L627.3 190.4L627.7 187.2L628.1 190.5L628.6 196.7L629.0 193.0L629.5 190.4L630.0 190.4L630.5 189.1L630.9 184.8L631.4 181.6L631.7 175.5L632.0 172.1L632.4 174.2L632.7 179.0L633.2 177.2L633.6 177.1L634.1 180.6L634.5 184.1L634.9 185.2L635.3 187.8L635.7 191.0L636.1 194.2L636.5 198.9L636.8 199.2L637.2 196.1L637.7 189.1L638.0 192.4L638.4 197.9L638.9 197.1L639.3 195.4L639.8 196.2L640.2 196.7L640.6 194.6L641.0 192.9L641.4 188.1L641.8 180.9L642.1 185.9L642.5 191.6L643.0 192.5L643.5 194.2L643.8 200.1L644.1 206.8L644.4 213.6L644.6 220.7L644.9 226.6L645.3 242.9L645.7 237.4L646.1 229.1L646.5 233.7L646.8 236.6L647.1 237.7L647.4 241.7L647.9 240.6L648.3 240.4L648.7 258.1L649.0 275.0L649.6 305.0L650.5 347.0L650.9 353.0L651.2 360.7L651.5 354.6L651.7 346.8L652.0 340.1L652.2 333.0L652.6 312.0L653.4 296.5L653.8 302.7L654.3 306.9L654.8 304.2L655.2 301.7L655.6 296.1L656.0 294.7L656.5 297.8L656.9 300.0L657.3 295.8L657.8 291.0L658.6 270.4L658.9 267.5L659.1 263.5L659.2 274.3L659.5 271.6L659.8 271.8L660.4 289.4L660.8 282.6L661.1 275.6L661.4 277.3L661.7 280.6L662.1 278.0L662.5 276.8L662.8 271.5L663.1 265.5L663.7 281.9L664.0 280.4L664.4 278.1L664.8 281.2L665.2 286.3L665.6 279.7L665.9 276.8L666.2 276.5L666.5 280.6L666.8 281.2L667.1 283.1L667.3 278.1L667.5 270.5L668.0 252.8L668.3 246.5L668.5 240.2L668.8 231.7L669.0 227.6L669.2 220.4L669.4 215.0L669.6 211.8L669.8 217.7L670.0 222.6L670.7 237.7L671.0 235.8L671.3 230.1L671.6 236.5L671.9 240.2L672.2 233.7L672.6 226.4L672.8 231.0L673.1 235.2L673.4 238.4L673.7 244.0L674.0 245.4L674.3 247.8L674.6 252.5L675.0 257.9L675.3 254.5L675.7 252.8L676.0 257.3L676.3 261.7L676.7 258.7L677.0 256.6L677.3 261.4L677.6 265.5L677.9 263.9L678.2 259.2L678.5 256.2L678.9 251.6L679.2 257.7L679.5 262.9L679.8 266.2L680.1 269.9L680.4 264.7L680.8 262.9L681.1 257.8L681.4 252.8L681.7 257.2L682.0 260.4L682.3 254.9L682.6 251.6L683.0 256.1L683.3 257.9L683.9 239.0L684.2 245.5L684.5 252.8L684.9 250.7L685.2 247.8L685.5 253.4L685.8 259.8L686.1 254.9L686.4 252.8L686.8 251.3L687.1 245.3L687.7 227.6L688.0 220.0L688.2 215.0L688.3 220.7L688.8 204.3L689.1 204.6L689.5 203.0L690.0 198.0L690.4 194.2L691.0 210.6L691.4 205.8L691.7 200.5L692.0 193.3L692.3 187.8L692.6 184.2L692.9 181.6L693.2 187.6L693.6 191.6L693.9 198.2L694.2 200.5L694.6 197.0L695.1 195.4L695.5 200.5L695.8 205.5L696.3 204.0L696.7 200.5L697.0 206.1L697.4 213.1L697.7 217.7L698.0 220.7L698.4 218.5L698.9 218.1L699.4 216.9L699.9 214.3L700.3 212.3L700.8 209.3L701.1 227.6L701.3 233.0L701.5 235.8L701.8 232.1L702.1 227.6L702.7 220.9L703.3 216.9L703.7 213.2L704.0 208.0L704.5 200.5L704.9 195.4L705.2 203.2L705.5 209.3L705.9 227.6L706.6 244.0L707.3 259.2L707.6 254.5L707.9 246.6L708.3 240.9L708.8 233.9L709.1 235.8L709.4 239.0L709.7 238.4L710.0 235.2L710.3 239.2L710.7 242.8L711.1 245.8L711.5 251.6L711.9 245.5L712.3 240.2L712.7 245.0L713.2 246.6L713.5 249.4L713.8 252.8L714.3 252.4L714.7 251.6L715.1 245.5L715.5 240.2L715.8 235.9L716.1 235.2L716.5 240.3L717.0 246.6L717.3 242.5L717.6 237.7L718.2 252.8L718.5 255.9L718.9 258.5L719.2 252.3L719.5 246.6L719.8 241.2L720.0 240.2L722.6 230.0L723.1 226.7L723.6 220.7L724.0 217.7L724.5 213.1L724.8 213.6L725.1 211.8L725.5 211.4L726.0 208.0L726.4 206.3L726.8 205.5L728.0 190.6L728.7 174.2L728.9 166.9L729.2 160.9L729.6 166.6L729.9 171.6L730.3 179.8L730.6 184.3L731.0 183.0L731.5 185.5L731.8 181.5L732.1 177.9L732.4 173.4L732.7 170.4L733.0 176.0L733.3 180.5L733.7 185.9L734.0 188.0L734.4 183.9L734.9 180.5L735.4 174.7L735.9 171.6L736.3 166.6L736.8 161.6L737.1 160.6L737.5 160.3L737.8 160.5L738.1 164.1L738.5 160.6L738.8 155.2L739.1 148.4L739.4 142.6L739.9 174.8L740.5 148.9L740.9 145.3L741.2 140.1L741.5 145.0L741.8 152.7L742.2 150.1L742.6 145.1L742.9 140.7L743.2 139.5L743.5 146.0L743.8 150.2L744.1 144.4L744.5 142.6L745.1 162.8L746.3 147.9L746.6 144.4L746.9 137.8L747.3 139.3L747.6 141.6L748.2 125.2L748.4 117.2L748.6 112.6L748.8 100.0L749.0 93.7L749.3 87.8L749.6 81.9L750.0 75.2L750.5 71.6L750.9 70.2L751.2 74.1L751.5 79.0L751.9 72.4L752.2 65.1L752.6 70.0L753.1 75.2L753.4 79.3L753.8 87.8L754.3 93.7L754.7 100.5L755.0 107.2L755.3 113.1L755.6 119.7L756.0 125.7L756.2 137.8L756.9 110.6L757.2 106.6L757.6 100.5L758.0 103.5L758.5 108.0L758.9 105.5L759.4 98.6L759.8 98.8L760.1 97.3L760.6 100.5L761.0 103.0L761.3 110.5L761.6 115.6L762.1 121.7L762.5 125.7L762.9 119.5L763.3 113.1L763.7 116.8L764.2 121.9L765.0 103.0L765.4 97.8L765.8 90.4L766.2 90.2L766.7 89.1L767.3 104.3L768.0 125.7L768.3 117.3L768.6 113.1L768.9 107.5L769.2 104.3L769.7 106.7L770.1 108.0L770.9 92.9L771.3 89.5L771.7 86.0L772.1 90.4L772.4 94.2L772.7 96.8L773.0 98.0L773.9 82.8L774.3 88.6L774.6 94.2L775.1 89.0L775.5 80.3L775.8 78.1L776.1 77.1L776.5 82.1L776.8 87.8L777.2 92.6L777.7 96.7L777.9 100.0L778.5 104.6L779.1 107.6L779.6 114.7L780.1 120.2L780.6 118.0L781.0 112.6L781.5 109.6L781.9 107.6L782.4 113.3L782.9 116.4L783.4 119.4L783.9 121.5L784.3 122.2L784.8 125.2L785.2 125.7L785.7 126.5L786.1 132.5L786.4 134.1L786.7 139.3L786.9 142.9L787.1 149.3L787.3 156.8L787.7 177.0L788.0 167.8L788.3 163.1L788.8 156.0L789.2 150.5L789.7 149.4L790.1 149.8L790.5 153.4L790.9 156.8L791.2 163.4L791.5 165.6L791.8 163.3L792.1 159.3L792.6 160.9L793.0 161.8L793.5 161.4L794.0 163.1L794.3 155.5L794.6 150.5L795.0 145.8L795.3 141.6L795.6 138.9L795.9 137.2L796.2 144.2L796.5 146.7L796.8 150.0L797.2 154.3L797.5 155.5L797.8 158.0L798.0 164.3L798.3 168.1L798.7 167.6L799.0 166.9L799.4 167.4L799.7 170.7L800.0 171.8L800.3 170.0L800.6 171.9L801.0 174.4L801.3 172.4L801.6 173.2L801.8 177.7L802.1 181.6L802.3 188.4L802.5 194.2L803.0 210.6L803.3 205.1L803.6 200.5L803.9 196.8L804.2 191.6L804.5 190.0L804.9 186.6L805.2 191.3L805.6 197.9L805.9 201.7L806.2 209.9L806.6 203.0L806.9 200.5L807.2 196.5L807.5 192.9L807.8 198.0L808.1 200.5L808.5 197.2L808.8 191.6L809.1 196.3L809.4 197.9L809.7 197.8L810.0 193.5L810.3 190.7L810.7 187.8L811.0 194.7L811.3 199.2L811.6 195.6L811.9 195.4L812.2 201.9L812.6 206.8L812.9 211.6L813.2 215.6L813.5 219.3L813.8 223.2L814.3 226.9L814.7 231.5L815.0 229.0L815.3 229.0L815.6 235.5L816.0 241.6L816.6 225.2L816.8 220.3L817.0 212.6L817.2 209.0L817.5 206.3L817.9 206.5L818.2 205.5L818.5 210.5L818.9 216.9L819.2 214.6L819.5 211.8L819.8 212.6L820.1 215.6L820.4 210.4L820.8 204.3L821.1 197.7L821.4 191.6L821.7 193.9L822.0 195.4L822.3 190.3L822.6 186.6L823.0 179.0L823.3 174.0L823.6 177.4L823.9 181.6L824.2 178.3L824.5 172.7L824.9 177.0L825.2 177.8L825.5 176.1L825.8 175.2L826.1 174.2L826.4 171.4L827.1 189.1L827.7 170.2L828.3 187.8L828.6 186.2L829.0 182.8L829.3 181.3L829.6 179.0L829.9 174.8L830.2 174.0L830.5 169.9L830.9 165.1L831.2 160.0L831.5 156.9L831.8 158.5L832.1 157.6L832.4 157.5L832.7 155.7L833.1 161.7L833.4 166.4L833.7 169.2L834.0 176.5L834.3 182.9L834.5 187.8L834.8 194.9L835.0 200.5L835.3 205.1L835.5 212.6L836.0 214.9L836.4 215.1L836.7 214.6L837.0 213.9L837.8 230.3L838.1 229.4L838.4 229.0L838.7 223.8L839.0 220.2L839.4 221.6L839.7 225.2L840.1 227.6L840.6 230.9L840.9 232.2L841.2 229.0L841.8 245.4L842.1 238.7L842.5 231.6L842.8 228.6L843.1 225.2L843.4 220.7L843.7 217.7L844.0 213.2L844.4 210.1L844.8 210.7L845.2 212.6L845.6 209.1L845.9 207.6L846.2 212.3L846.6 215.1L846.9 212.3L847.3 210.1L847.6 206.0L847.9 200.0L848.5 217.7L849.0 221.8L849.4 228.4L849.8 206.3L850.1 209.2L850.4 210.1L850.7 207.5L851.0 205.1L851.5 203.3L851.9 200.0L852.6 177.1L852.9 179.9L853.2 182.8L853.5 179.9L853.8 179.0L854.1 186.7L854.5 191.6L854.8 186.1L855.1 181.6L855.4 187.1L855.7 192.9L856.0 185.6L856.3 180.3L856.7 184.3L857.0 187.8L857.3 184.3L857.6 181.6L857.9 185.6L858.2 189.1L858.5 185.4L858.9 180.9L859.2 184.6L859.5 189.8L859.8 183.5L860.1 180.3L860.8 158.8L861.1 161.8L861.4 163.9L861.7 162.4L862.0 158.8L862.3 159.9L862.6 159.5L863.0 163.6L863.3 170.2L863.6 174.0L863.9 176.5L864.2 179.4L864.5 181.6L864.9 178.7L865.2 175.2L865.4 169.4L865.5 162.6L865.8 147.6L866.2 142.1L866.6 137.4L866.9 134.7L867.2 131.6L867.4 136.8L867.6 139.9L867.3 147.5L867.8 162.6L868.1 168.2L868.3 175.0L868.5 177.9L868.7 184.1L868.9 190.9L869.1 197.9L869.5 193.1L869.8 187.8L870.2 181.7L870.6 179.7L870.9 183.0L871.2 187.8L871.5 191.7L871.9 194.2L872.3 197.8L872.7 201.7L873.1 206.3L873.4 210.6L873.7 204.1L874.0 200.5L874.3 204.0L874.6 205.5L875.5 221.9L875.9 218.8L876.3 211.8L876.7 211.0L877.2 210.6L877.5 206.0L877.8 203.0L878.1 198.6L878.4 196.7L878.7 195.5L879.0 192.3L879.4 197.7L879.7 203.0L880.0 208.4L880.3 215.6L881.0 237.8L881.3 241.7L881.6 242.9L881.9 241.2L882.2 237.8L882.5 232.2L882.8 225.2L883.5 210.1L884.1 225.2L884.4 218.3L884.7 215.1L885.4 230.3L885.7 224.5L886.0 218.9L886.3 212.7L886.6 205.1L886.9 210.0L887.3 217.7L887.9 234.1L888.2 234.5L888.5 232.8L888.8 229.3L889.1 222.7L889.5 227.6L889.8 230.3L890.1 227.6L890.4 226.5L890.7 221.9L891.0 218.9L891.4 214.3L891.7 207.6L891.9 204.9L892.0 200.0L892.4 200.3L892.7 197.9L893.0 194.9L893.3 189.1L893.6 189.6L893.9 190.4L894.3 195.0L894.6 200.5L894.9 204.8L895.2 213.1L895.5 218.1L895.8 221.4L896.5 240.4L897.1 222.7L897.4 229.3L897.7 231.6L898.0 229.8L898.4 229.0L898.7 235.4L899.0 242.9L899.4 243.0L899.9 241.6L900.3 241.4L900.8 240.4L901.1 243.9L901.4 250.5L901.7 254.7L902.0 260.6L902.3 261.9L902.6 265.6L903.0 261.5L903.4 253.0L903.7 257.3L904.0 263.1L904.4 270.3L904.7 275.7L905.0 280.7L905.3 281.5L905.7 278.2L906.2 270.7L906.5 268.4L906.8 263.1L907.3 263.0L907.7 259.3L908.1 258.6L908.5 260.6L908.9 256.4L909.3 253.0L909.7 249.7L910.0 247.9L910.4 248.3L910.9 249.2L911.2 245.7L911.6 237.8L912.0 231.6L912.5 229.0L912.8 230.3L913.1 230.3L913.4 223.2L913.8 218.9L914.1 223.6L914.4 225.2L914.7 230.5L915.0 232.8L915.5 236.7L915.9 241.6L916.3 248.3L916.7 250.5L917.0 254.3L917.3 258.0L917.7 258.2L918.2 255.5L918.5 260.9L918.8 265.6L919.1 270.0L919.3 275.7L919.8 280.7L920.2 286.6L920.6 281.0L921.0 275.7L921.4 271.3L921.8 265.6L922.4 263.2L923.0 260.6L923.4 257.7L923.9 250.5L924.3 248.4L924.7 246.7L925.1 240.5L925.5 235.3L925.8 237.7L926.1 241.6L926.4 247.7L926.8 255.5L927.1 259.0L927.4 265.6L927.7 265.8L928.0 268.1L928.3 264.7L928.6 259.3L929.0 256.9L929.3 254.3L929.9 237.8L930.2 231.4L930.5 225.2L930.9 229.4L931.2 232.8L931.5 239.0L931.8 242.9L932.1 241.1L932.4 237.8L932.7 243.8L933.1 247.9L933.4 243.5L933.7 240.4L934.0 243.9L934.3 247.9L935.0 231.6L935.3 227.5L935.6 225.2L935.9 227.7L936.2 230.3L936.9 211.4L937.2 214.9L937.5 220.2L937.8 216.0L938.1 212.6L938.5 218.7L939.0 225.2L939.3 223.7L939.6 222.7L939.8 210.0L940.2 193.1L940.5 186.5L940.9 180.5L941.2 175.5L941.5 171.6L941.8 178.8L942.1 183.0L942.4 187.7L942.7 193.1L943.1 196.4L943.4 201.9L943.8 201.5L944.3 200.7L944.7 198.2L945.1 198.1L945.5 193.2L945.9 190.6L946.2 185.6L946.5 180.5L946.8 174.2L947.2 171.6L947.5 175.1L947.8 183.0L948.1 190.3L948.4 196.9L948.7 194.9L949.0 190.6L949.4 185.6L949.7 184.3L950.0 180.7L950.3 179.2L950.6 183.6L951.0 186.8L951.3 189.0L951.6 195.6L951.9 190.2L952.2 186.8L952.8 201.9L953.2 196.2L953.5 193.1L953.8 186.6L954.1 180.5L954.4 181.5L954.7 186.8L955.4 170.4L955.7 168.2L956.0 164.1L956.3 167.7L956.6 171.6L956.9 167.6L957.3 162.8L957.6 161.2L957.9 160.3L958.2 156.5L958.5 157.1L958.8 159.2L959.1 161.6L959.5 162.6L959.8 166.6L960.1 169.1L960.4 171.6L960.7 173.9L961.0 177.9L961.4 180.1L961.7 183.0L962.0 181.5L962.3 180.5L962.6 183.8L962.9 185.5L963.2 180.1L963.6 172.9L963.9 177.5L964.2 184.3L964.5 189.3L964.8 194.3L965.1 192.8L965.5 188.0L965.8 192.4L966.1 195.6L966.3 191.7L966.6 189.3L967.0 205.7L967.2 212.6L967.6 211.2L968.0 210.1L968.3 214.1L968.6 218.9L968.9 222.5L969.2 224.0L969.9 239.1L970.3 236.6L970.8 234.1L971.1 232.6L971.4 230.3L971.7 229.3L972.0 224.0L972.9 242.9L973.2 236.3L973.5 232.8L973.8 227.9L974.2 225.2L974.5 220.2L974.8 218.9L975.2 214.0L975.5 212.6L975.9 216.7L976.2 218.9L976.5 215.5L976.8 211.4L977.1 210.0L977.4 205.1L977.7 200.4L978.0 200.0L978.3 215.1L978.6 211.6L979.0 210.1L979.3 212.9L979.6 212.6L979.9 211.2L980.2 207.6L980.5 211.7L980.9 213.9L981.2 212.3L981.5 208.8L981.8 210.1L982.1 211.4L982.4 214.8L982.7 218.3L983.1 213.6L983.4 208.8L983.7 209.1L984.0 207.6L984.3 205.5L984.6 203.8L985.1 202.9L985.5 201.3L985.9 205.4L986.3 206.3L986.6 201.9L986.9 200.0L986.9 185.5L987.2 180.9L987.5 177.9L987.9 173.5L988.2 167.8L988.5 161.3L988.8 155.2L989.1 158.2L989.4 161.6L990.1 146.4L990.7 161.6L991.0 163.1L991.3 160.3L991.6 164.5L992.0 167.8L992.3 171.2L992.6 175.4L992.9 181.7L993.2 185.5L993.5 183.3L993.9 176.7L994.2 172.3L994.5 170.4L994.8 165.9L995.1 162.8L995.4 159.2L995.7 155.2L996.4 174.2L996.7 175.4L997.0 177.9L997.3 177.0L997.6 171.6L997.9 176.6L998.3 180.5L998.6 176.6L998.9 173.5L999.2 180.7L999.5 186.8L999.8 190.3L1000.2 195.6L1000.5 193.7L1000.8 193.1L1001.1 197.0L1001.4 200.7L1001.7 206.0L1002.0 207.0L1002.4 201.6L1002.7 200.7L1003.0 198.6L1003.3 195.6L1003.6 194.6L1003.9 190.6L1004.3 196.4L1004.6 200.7L1004.9 206.6L1005.2 208.2L1005.5 212.8L1005.8 216.4L1006.2 214.7L1006.5 212.6L1006.8 215.6L1007.1 218.9L1007.4 221.1L1007.7 225.2L1008.4 240.4L1008.8 241.9L1009.2 239.8L1009.6 240.7L1009.9 244.2L1010.2 248.4L1010.5 253.0L1010.8 250.5L1011.1 249.2L1011.5 249.3L1011.8 251.1L1012.1 247.3L1012.4 247.9L1012.7 245.6L1013.0 244.2L1013.3 241.8L1013.7 239.1L1014.0 235.5L1014.3 231.6L1014.6 226.8L1014.9 220.2L1015.2 218.1L1015.5 216.4L1015.9 214.7L1016.2 214.5L1016.5 220.8L1016.8 226.5L1017.1 226.6L1017.4 225.2L1017.8 223.3L1018.1 223.3L1018.4 221.4L1018.7 222.7L1019.0 227.9L1019.3 235.3L1019.7 234.6L1020.0 231.6L1020.3 235.8L1020.6 237.8L1020.9 240.0L1021.2 244.2L1021.5 244.0L1021.9 243.5L1022.5 259.3L1022.8 255.8L1023.1 250.5L1023.4 254.5L1023.8 255.5L1024.1 256.7L1024.4 259.3L1024.7 254.6L1025.0 250.5L1025.5 251.7L1025.9 249.8L1026.3 247.9L1026.7 241.6L1027.0 240.2L1027.3 235.3L1027.6 230.3L1027.9 227.8L1028.2 225.7L1028.5 222.7L1028.8 220.2L1029.0 218.3L1029.4 223.0L1029.7 227.8L1030.0 230.8L1030.3 235.3L1030.6 239.2L1031.0 244.2L1031.3 247.9L1031.6 251.7L1031.9 256.9L1032.2 258.0L1032.5 255.0L1032.8 250.5L1033.2 252.2L1033.5 253.0L1033.8 248.0L1034.1 242.9L1034.4 240.8L1034.7 240.4L1035.0 237.3L1035.4 234.7L1035.7 240.2L1036.0 242.9L1036.3 243.2L1036.6 241.6L1036.9 249.5L1037.3 253.0L1037.6 257.7L1037.9 261.8L1038.2 260.5L1038.5 259.3L1038.9 262.6L1039.3 269.4L1039.6 273.6L1039.9 277.0L1040.2 270.0L1040.5 266.9L1040.9 270.4L1041.2 270.7L1041.5 266.2L1041.8 263.1L1042.1 264.4L1042.4 265.6L1042.7 261.0L1043.1 259.3L1043.4 260.7L1043.7 263.1L1044.0 259.2L1044.3 257.4L1044.6 260.9L1045.0 261.8L1045.3 260.2L1045.6 258.0L1045.9 255.5L1046.2 255.5L1046.5 249.6L1046.8 247.9L1047.2 244.1L1047.5 240.4L1047.8 241.1L1048.1 242.9L1048.4 240.4L1048.7 240.4L1049.2 244.8L1049.6 247.9L1050.1 263.2L1050.7 284.1L1051.2 277.2L1051.6 270.8L1052.4 255.6L1052.7 253.2L1053.0 250.6L1053.3 244.9L1053.6 240.5L1053.9 243.0L1054.3 246.8L1054.6 245.0L1054.9 244.3L1055.2 245.0L1055.5 249.3L1055.8 245.6L1056.2 240.5L1056.5 239.7L1056.8 237.9L1057.1 239.8L1057.4 245.5L1057.7 247.5L1058.0 249.3L1058.4 257.2L1058.7 262.6L1059.0 258.1L1059.3 253.1L1059.6 253.9L1059.9 251.8L1060.3 245.9L1060.6 240.5L1060.9 236.1L1061.2 231.6L1061.5 232.7L1061.8 236.7L1062.1 231.3L1062.5 227.8L1062.8 224.0L1063.1 224.1L1063.4 223.7L1063.7 225.3L1064.0 224.3L1064.3 222.8L1064.7 218.6L1065.0 213.3L1065.3 218.1L1065.6 220.3L1065.9 221.7L1066.2 222.8L1066.6 225.5L1066.9 230.4L1067.2 234.6L1067.5 237.9L1067.8 239.1L1068.1 240.5L1068.5 246.9L1068.8 249.3L1069.1 255.9L1069.4 258.1L1069.7 261.1L1070.0 261.9L1070.3 261.9L1070.7 264.4L1071.0 267.4L1071.3 271.5L1071.6 267.6L1071.9 263.2L1072.2 263.7L1072.6 265.7L1072.9 263.8L1073.2 260.7L1073.5 260.2L1073.8 258.1L1074.1 255.3L1074.5 250.6L1074.8 252.7L1075.1 254.3L1075.4 256.5L1075.7 260.7L1076.0 262.3L1076.3 265.7L1076.7 264.9L1077.0 264.4L1077.3 271.6L1077.6 275.8L1077.9 275.0L1078.2 270.8L1078.5 274.7L1078.9 276.6L1079.1 272.8L1079.4 268.2L1079.7 267.1L1080.0 264.4L1080.3 263.8L1080.6 261.3L1080.9 263.0L1081.3 261.9L1081.6 266.0L1081.9 268.2L1082.2 267.8L1082.5 270.8L1082.9 274.1L1083.3 275.3L1083.6 273.5L1083.9 270.8L1084.2 271.3L1084.4 272.8L1084.8 272.3L1085.2 270.8L1085.4 268.6L1085.7 265.7L1085.9 261.9L1086.1 258.1L1086.4 255.0L1086.7 255.6L1087.0 252.6L1087.3 249.3L1087.6 249.0L1088.0 247.4L1088.3 249.6L1088.6 251.8L1088.9 253.2L1089.2 258.1L1089.5 261.8L1089.8 264.4L1090.2 264.6L1090.5 263.2L1090.8 265.3L1091.1 267.0L1091.4 266.2L1091.7 264.4L1092.1 266.0L1092.4 268.2L1092.7 266.2L1093.0 265.7L1093.3 265.7L1093.6 264.4L1093.9 259.6L1094.3 255.6L1094.6 253.9L1094.9 251.8L1095.2 249.6L1095.5 243.0L1095.8 241.3L1096.2 237.9L1096.5 233.4L1096.8 228.5L1097.1 229.5L1097.4 234.2L1097.7 238.1L1098.0 241.7L1098.4 246.4L1098.7 249.3L1099.0 250.4L1099.3 253.1L1099.6 255.4L1099.9 258.1L1100.3 260.1L1100.6 266.5L1100.9 264.8L1101.2 261.9L1101.5 257.5L1101.8 254.3L1102.1 252.6L1102.5 249.3L1102.8 248.9L1103.1 245.5L1103.4 244.1L1103.7 243.0L1104.0 241.6L1104.3 237.9L1104.7 235.7L1105.0 232.9L1105.3 229.5L1105.6 226.6L1105.9 223.8L1106.2 221.6L1106.9 200.1L1107.2 197.9L1107.5 197.6L1107.8 195.2L1108.1 190.0L1108.5 197.3L1108.8 202.6L1109.1 207.8L1109.4 215.2L1109.7 209.9L1110.0 202.6L1110.3 200.6L1110.7 200.1L1111.0 198.1L1111.3 199.5L1111.6 206.1L1111.9 210.2L1112.2 213.2L1112.6 219.0L1112.9 226.0L1113.2 230.4L1113.5 228.1L1113.8 225.3L1114.5 240.5L1114.8 242.7L1115.1 243.0L1115.4 246.4L1115.7 248.7L1116.0 247.1L1116.3 243.0L1116.7 242.1L1117.0 240.5L1117.3 239.8L1117.6 237.9L1117.9 235.7L1118.2 232.9L1118.5 232.2L1118.9 229.1L1119.2 231.2L1119.5 234.2L1120.1 219.0L1120.8 240.5L1121.1 237.2L1121.4 231.6L1122.0 215.2L1122.3 220.7L1122.7 222.8L1123.0 225.9L1123.3 229.1L1123.6 232.8L1123.9 235.4L1124.2 232.3L1124.5 230.4L1124.9 230.4L1125.2 231.0L1125.5 231.6L1125.8 231.6L1126.1 235.7L1126.4 240.5L1126.8 243.9L1127.1 249.3L1127.4 251.2L1127.7 253.1L1128.0 251.4L1128.3 249.3L1128.6 254.7L1129.0 259.4L1129.3 255.1L1129.6 249.3L1129.9 243.6L1130.2 241.7L1130.5 245.8L1130.8 246.8L1131.5 272.8L1131.8 267.2L1132.1 261.9L1132.4 263.0L1132.7 265.7L1133.1 262.8L1133.4 260.7L1133.7 262.4L1134.0 263.2L1134.3 260.4L1134.6 255.6L1135.0 252.7L1135.3 250.6L1135.6 252.6L1135.9 254.3L1136.2 249.1L1136.5 247.4L1136.8 251.7L1137.2 255.6L1137.5 251.7L1137.8 248.0L1138.1 252.0L1138.4 256.9L1138.7 260.4L1139.0 261.9L1139.4 263.3L1139.7 260.7L1139.9 265.6L1140.1 268.2L1140.3 271.2L1140.6 275.9L1140.9 272.5L1141.2 265.7L1141.4 262.8L1141.6 260.7L1141.9 256.8L1142.2 253.1L1142.5 246.1L1142.8 240.5L1143.2 236.9L1143.5 232.3L1143.8 239.5L1144.1 245.5L1144.4 241.9L1144.7 237.9L1145.0 241.5L1145.4 245.5L1145.7 248.8L1146.0 252.5L1146.3 246.0L1146.6 240.5L1146.9 236.5L1147.3 230.4L1147.6 236.7L1147.9 244.3L1148.2 239.0L1148.5 234.2L1148.8 235.8L1149.2 237.9L1149.5 240.9L1149.8 245.5L1150.1 248.4L1150.4 251.8L1150.7 254.4L1151.0 260.2L1151.7 243.0L1152.0 242.2L1152.3 240.5L1152.6 241.7L1152.9 241.7L1153.2 237.6L1153.6 234.2L1153.9 234.6L1154.2 231.6L1154.5 227.0L1154.8 224.1L1155.1 226.6L1155.5 227.8L1155.8 225.9L1156.1 222.8L1156.4 224.1L1156.7 226.6L1157.0 220.7L1157.3 215.2L1157.7 221.9L1158.0 226.6L1158.3 233.6L1158.6 240.5L1158.9 240.1L1159.2 239.2L1159.6 243.9L1159.9 245.5L1160.2 248.9L1160.5 251.8L1160.8 251.9L1161.1 255.6L1161.5 260.2L1161.8 266.5L1162.1 264.5L1162.4 260.7L1162.7 256.7L1163.0 253.1L1163.3 251.0L1163.7 251.2L1164.0 250.6L1164.3 254.3L1164.6 257.9L1164.9 260.7L1165.2 268.0L1165.5 272.1L1165.9 267.6L1166.2 265.7L1166.5 261.0L1166.8 260.7L1167.1 265.0L1167.4 268.2L1167.8 265.1L1168.1 263.2L1168.3 266.7L1168.5 270.9L1168.7 266.0L1169.0 261.9L1169.3 262.8L1169.6 265.7L1169.9 265.6L1170.2 264.4L1170.5 268.6L1170.8 270.8L1171.0 272.8L1171.2 274.0L1171.5 271.8L1171.7 270.8L1172.0 274.2L1172.2 275.3L1172.6 271.6L1172.9 268.2L1173.1 266.3L1173.4 263.2L1173.6 260.9L1173.8 260.7L1174.1 266.4L1174.4 270.8L1174.7 275.4L1175.0 278.3L1175.3 282.3L1175.7 283.4L1175.8 286.0L1176.0 288.6L1176.3 285.2L1176.7 280.9L1177.0 276.4L1177.3 273.3L1177.5 270.5L1177.8 265.7L1178.0 264.0L1178.2 260.7L1178.5 257.1L1178.8 251.2L1179.1 254.3L1179.4 258.1L1179.7 260.6L1180.1 265.7L1180.4 269.2L1180.7 272.8L1181.0 269.0L1181.3 265.7L1181.6 263.0L1182.0 261.9L1182.3 262.9L1182.6 262.6L1182.9 263.3L1183.2 261.9L1183.5 264.2L1183.8 265.7L1184.0 267.3L1184.2 266.5L1184.5 240.5L1184.8 235.9L1185.1 230.4L1185.4 234.4L1185.7 240.5L1186.1 243.6L1186.4 248.0L1186.7 243.2L1187.0 239.2L1187.3 239.3L1187.6 237.9L1187.9 236.4L1188.3 232.9L1188.6 230.5L1188.9 227.8L1189.2 232.1L1189.5 234.2L1189.8 236.4L1190.2 240.5L1190.5 241.6L1190.8 243.0L1191.1 247.1L1191.4 248.0L1191.7 251.0L1192.0 253.1L1192.4 256.8L1192.7 258.1L1193.0 261.1L1193.3 268.2L1193.5 270.6L1193.7 276.6L1193.9 271.5L1194.2 268.2L1194.4 268.1L1194.6 265.7L1194.9 265.6L1195.2 261.9L1195.5 260.6L1195.8 260.7L1196.2 257.1L1196.5 255.6L1196.8 250.7L1197.1 248.0L1197.4 243.3L1197.7 240.5L1198.0 239.8L1198.4 237.9L1198.7 237.3L1199.0 237.3L1199.3 240.9L1199.6 240.5L1199.9 243.6L1200.2 245.2L1200.8 264.2L1201.1 260.3L1201.5 257.9L1201.8 259.4L1202.1 260.4L1202.7 245.2L1202.9 250.8L1203.1 256.6L1203.3 258.1L1203.6 257.9L1203.8 265.1L1204.0 270.5L1204.2 276.4L1204.3 283.1L1204.6 290.4L1204.9 295.7L1205.2 298.2L1205.5 299.5L1205.8 295.0L1206.1 290.7L1206.4 285.9L1206.8 280.6L1207.1 277.5L1207.4 273.0L1207.7 269.5L1208.0 266.7L1208.3 267.9L1208.6 270.5L1209.0 270.6L1209.3 267.9L1209.5 270.8L1209.7 273.6L1210.0 270.2L1210.3 267.9L1210.6 265.9L1210.9 262.9L1211.2 260.0L1211.5 260.4L1211.9 265.5L1212.2 270.5L1212.5 268.4L1212.8 269.2L1213.1 271.3L1213.4 274.3L1213.8 267.3L1214.1 264.2L1214.4 259.6L1214.7 256.6L1215.0 263.2L1215.3 267.9L1215.6 262.7L1216.0 257.9L1216.3 261.0L1216.6 266.7L1216.8 264.8L1217.0 259.1L1217.2 256.5L1217.3 255.3L1217.6 251.9L1217.8 245.2L1218.0 238.4L1218.2 232.6L1218.4 224.7L1218.6 220.0L1218.9 219.0L1219.2 220.6L1219.5 218.2L1219.8 219.5L1220.1 221.8L1220.3 224.2L1220.6 225.0L1220.9 230.1L1221.3 232.6L1221.6 228.7L1221.9 227.6L1222.1 224.9L1222.3 222.0L1222.6 212.0L1222.9 197.0L1223.3 183.0" fill="none" stroke="#000" stroke-width="1.17" stroke-linejoin="round" clip-path="url(#c1)"/>
<text x="73.5" y="377.3" font-size="10.5px">Last Updated: 2025-06-09 10:58</text>
<rect x="73.6" y="376.5" width="1205.4" height="162.89999999999998" fill="#fff"/>
<path id="zscore" d="M128.2 458.1L128.6 454.7L129.1 458.0L129.5 458.4L129.9 461.2L130.4 471.7L130.8 451.9L131.3 455.0L131.7 452.3L132.1 455.8L132.6 455.2L133.0 456.1L133.4 464.5L133.9 453.1L134.3 454.7L134.7 454.7L135.2 464.6L135.6 464.9L136.1 461.0L136.5 459.1L136.9 455.6L137.4 457.2L137.8 454.6L138.2 459.9L138.7 455.6L139.1 455.2L139.5 460.0L140.0 449.2L140.4 454.4L140.8 451.5L141.3 459.8L141.7 460.3L142.2 458.5L142.6 457.5L143.0 450.8L143.5 454.5L143.9 461.4L144.3 466.4L144.8 438.1L145.2 452.2L145.6 464.9L146.1 454.6L146.5 452.8L147.0 471.6L147.4 456.5L147.8 444.1L148.3 460.1L148.7 439.4L149.1 479.5L149.6 452.1L150.0 457.6L150.4 471.4L150.9 448.8L151.3 450.4L151.8 447.7L152.2 442.8L152.6 453.4L153.1 455.8L153.5 469.7L153.9 450.9L154.4 463.0L154.8 461.4L155.2 469.4L155.7 466.5L156.1 462.2L156.5 444.3L157.0 471.3L157.4 454.6L157.9 440.7L158.3 480.8L158.7 453.5L159.2 464.2L159.6 468.0L160.0 447.4L160.5 446.1L160.9 455.4L161.3 454.6L161.8 452.7L162.2 441.3L162.7 450.9L163.1 439.4L163.5 451.6L164.0 472.4L164.4 444.4L164.8 447.6L165.3 451.8L165.7 463.2L166.1 448.7L166.6 474.8L167.0 458.8L167.5 447.0L167.9 469.9L168.3 441.1L168.8 451.5L169.2 458.4L169.6 453.8L170.1 450.6L170.5 455.8L170.9 445.7L171.4 463.5L171.8 461.0L172.2 473.0L172.7 456.7L173.1 465.6L173.6 447.7L174.0 442.6L174.4 461.3L174.9 470.5L175.3 458.3L175.7 458.4L176.2 459.9L176.6 443.2L177.0 467.1L177.5 444.6L177.9 469.4L178.4 464.7L178.8 450.8L179.2 445.9L179.7 431.6L180.1 453.6L180.5 455.6L181.0 455.5L181.4 451.3L181.8 458.7L182.3 454.2L182.7 451.3L183.2 457.0L183.6 479.5L184.0 451.4L184.5 453.8L184.9 461.2L185.3 460.6L185.8 457.1L186.2 447.9L186.6 460.3L187.1 453.2L187.5 438.9L187.9 468.0L188.4 454.6L188.8 453.1L189.3 454.6L189.7 461.2L190.1 450.5L190.6 454.2L191.0 462.1L191.4 479.5L191.9 462.4L192.3 457.9L192.7 459.2L193.2 457.6L193.6 461.8L194.1 447.1L194.5 468.5L194.9 457.6L195.4 434.2L195.8 448.6L196.2 442.3L196.7 473.7L197.1 460.4L197.5 460.3L198.0 450.8L198.4 446.2L198.9 446.3L199.3 471.2L199.7 450.3L200.2 462.8L200.6 436.8L201.0 445.2L201.5 458.4L201.9 455.1L202.3 449.1L202.8 455.6L203.2 457.8L203.6 441.9L204.1 446.7L204.5 459.9L205.0 468.2L205.4 448.0L205.8 459.6L206.3 455.7L206.7 450.0L207.1 427.0L207.6 450.7L208.0 472.0L208.4 471.8L208.9 450.9L209.3 466.4L209.8 467.1L210.2 471.4L210.6 452.0L211.1 436.8L211.5 451.2L211.9 466.2L212.4 457.0L212.8 479.5L213.2 449.4L213.7 441.3L214.1 465.7L214.6 441.6L215.0 447.3L215.4 458.7L215.9 443.1L216.3 457.9L216.7 462.9L217.2 453.0L217.6 452.9L218.0 442.2L218.5 467.0L218.9 445.8L219.3 442.4L219.8 442.7L220.2 458.7L220.7 431.6L221.1 447.0L221.5 455.8L222.0 455.7L222.4 443.0L222.8 459.6L223.3 460.8L223.7 475.2L224.1 448.9L224.6 453.9L225.0 440.7L225.5 457.1L225.9 448.8L226.3 456.2L226.8 479.5L227.2 457.6L227.6 446.7L228.1 442.3L228.5 441.1L228.9 463.6L229.4 448.3L229.8 467.6L230.3 446.5L230.7 469.1L231.1 457.1L231.6 458.9L232.0 457.3L232.4 462.8L232.9 454.7L233.3 439.4L233.7 456.5L234.2 451.8L234.6 447.1L235.0 458.9L235.5 469.4L235.9 462.4L236.4 446.4L236.8 473.1L237.2 462.8L237.7 447.1L238.1 449.2L238.5 456.9L239.0 449.1L239.4 455.3L239.8 468.6L240.3 472.3L240.7 463.2L241.2 447.9L241.6 462.5L242.0 465.8L242.5 435.0L242.9 463.0L243.3 458.1L243.8 468.6L244.2 453.4L244.6 453.7L245.1 463.3L245.5 449.8L246.0 459.7L246.4 465.6L246.8 454.1L247.3 461.5L247.7 449.3L248.1 449.6L248.6 450.4L249.0 453.8L249.4 443.9L249.9 450.5L250.3 452.5L250.8 448.2L251.2 439.4L251.6 459.9L252.1 461.6L252.5 474.2L252.9 452.4L253.4 466.1L253.8 450.2L254.2 458.2L254.7 451.5L255.1 448.1L255.5 465.9L256.0 457.8L256.4 454.1L256.9 448.9L257.3 457.3L257.7 458.9L258.2 467.0L258.6 474.3L259.0 448.2L259.5 456.0L259.9 465.4L260.3 465.2L260.8 445.8L261.2 450.7L261.7 450.9L262.1 452.2L262.5 450.3L263.0 431.6L263.4 457.6L263.8 451.8L264.3 446.8L264.7 453.8L265.1 463.9L265.6 443.9L266.0 439.2L266.5 470.8L266.9 463.5L267.3 454.1L267.8 455.2L268.2 460.9L268.6 466.5L269.1 446.8L269.5 468.7L269.9 470.2L270.4 440.2L270.8 447.2L271.2 449.8L271.7 471.7L272.1 465.5L272.6 454.4L273.0 464.3L273.4 457.5L273.9 451.8L274.3 464.1L274.7 458.2L275.2 452.5L275.6 453.3L276.0 450.7L276.5 454.9L276.9 460.2L277.4 449.2L277.8 456.5L278.2 439.4L278.7 463.1L279.1 457.0L279.5 458.0L280.0 455.4L280.4 457.0L280.8 455.2L281.3 458.3L281.7 469.3L282.2 452.8L282.6 482.1L283.0 452.7L283.5 458.8L283.9 452.6L284.3 466.5L284.8 456.4L285.2 466.1L285.6 449.7L286.1 467.6L286.5 467.2L286.9 441.5L287.4 460.7L287.8 470.4L288.3 464.5L288.7 451.9L289.1 452.1L289.6 455.2L290.0 442.4L290.4 450.0L290.9 457.2L291.3 451.1L291.7 440.7L292.2 447.4L292.6 446.9L293.1 488.5L293.5 427.7L293.9 449.8L294.4 459.9L294.8 446.5L295.2 451.1L295.7 448.0L296.1 459.1L296.5 444.8L297.0 459.1L297.4 456.1L297.9 460.3L298.3 448.4L298.7 429.6L299.2 456.9L299.6 468.4L300.0 455.4L300.5 454.0L300.9 447.6L301.3 450.5L301.8 456.8L302.2 449.9L302.6 452.5L303.1 455.3L303.5 456.5L304.0 459.0L304.4 439.4L304.8 465.7L305.3 474.3L305.7 456.9L306.1 469.1L306.6 460.6L307.0 473.7L307.4 462.6L307.9 452.2L308.3 452.3L308.8 457.4L309.2 458.9L309.6 468.8L310.1 441.8L310.5 452.7L310.9 447.9L311.4 464.3L311.8 458.5L312.2 472.1L312.7 450.5L313.1 449.2L313.6 472.7L314.0 457.4L314.4 451.7L314.9 471.6L315.3 472.2L315.7 465.8L316.2 475.6L316.6 461.6L317.0 456.7L317.5 454.9L317.9 451.7L318.3 451.1L318.8 444.5L319.2 447.3L319.7 467.9L320.1 461.2L320.5 465.8L321.0 465.9L321.4 457.6L321.8 456.9L322.3 452.9L322.7 470.2L323.1 467.3L323.6 457.2L324.0 458.6L324.5 459.6L324.9 457.5L325.3 463.3L325.8 451.1L326.2 454.0L326.6 457.7L327.1 462.6L327.5 458.4L327.9 436.8L328.4 470.4L328.8 462.0L329.3 455.3L329.7 455.7L330.1 468.4L330.6 459.1L331.0 459.6L331.4 453.1L331.9 451.9L332.3 457.3L332.7 464.0L333.2 458.2L333.6 457.5L334.0 450.9L334.5 454.5L334.9 463.0L335.4 468.2L335.8 460.1L336.2 463.1L336.7 466.2L337.1 457.9L337.5 461.1L338.0 456.1L338.4 452.6L338.8 460.4L339.3 459.6L339.7 447.8L340.2 456.0L340.6 447.7L341.0 463.2L341.5 454.9L341.9 452.0L342.3 454.3L342.8 446.3L343.2 450.6L343.6 449.1L344.1 438.1L344.5 458.3L345.0 452.7L345.4 465.9L345.8 447.1L346.3 465.4L346.7 454.9L347.1 449.9L347.6 438.1L348.0 477.4L348.4 447.3L348.9 456.8L349.3 463.7L349.7 454.8L350.2 452.1L350.6 451.1L351.1 463.4L351.5 442.4L351.9 443.1L352.4 456.8L352.8 454.7L353.2 460.5L353.7 445.2L354.1 462.8L354.5 451.4L355.0 461.0L355.4 462.7L355.9 442.0L356.3 452.5L356.7 457.1L357.2 462.6L357.6 450.2L358.0 457.4L358.5 454.4L358.9 444.3L359.3 447.6L359.8 461.3L360.2 440.6L360.7 456.9L361.1 451.3L361.5 461.6L362.0 457.3L362.4 469.5L362.8 444.1L363.3 447.2L363.7 465.7L364.1 467.8L364.6 468.6L365.0 448.5L365.4 460.3L365.9 457.4L366.3 459.2L366.8 457.8L367.2 464.8L367.6 456.8L368.1 467.3L368.5 457.5L368.9 454.8L369.4 453.6L369.8 458.6L370.2 463.5L370.7 455.8L371.1 460.5L371.6 445.7L372.0 451.5L372.4 457.8L372.9 460.4L373.3 462.0L373.7 463.7L374.2 459.5L374.6 454.9L375.0 453.3L375.5 452.9L375.9 441.9L376.4 462.0L376.8 456.9L377.2 470.4L377.7 460.7L378.1 455.8L378.5 455.9L379.0 454.0L379.4 458.7L379.8 454.3L380.3 456.6L380.7 451.4L381.2 470.6L381.6 463.3L382.0 457.0L382.5 464.4L382.9 443.3L383.3 452.5L383.8 461.6L384.2 452.4L384.6 451.6L385.1 454.8L385.5 453.3L385.9 457.7L386.4 467.1L386.8 457.2L387.3 453.7L387.7 460.8L388.1 457.7L388.6 451.6L389.0 463.3L389.4 452.4L389.9 443.6L390.3 461.0L390.7 455.9L391.2 458.1L391.6 445.9L392.1 454.7L392.5 450.5L392.9 461.9L393.4 457.1L393.8 457.0L394.2 462.1L394.7 443.8L395.1 477.4L395.5 462.0L396.0 451.6L396.4 457.9L396.9 453.7L397.3 454.3L397.7 467.7L398.2 458.5L398.6 446.3L399.0 461.1L399.5 464.3L399.9 466.7L400.3 465.7L400.8 454.6L401.2 444.8L401.6 453.9L402.1 455.2L402.5 440.9L403.0 460.7L403.4 439.4L403.8 453.2L404.3 453.0L404.7 464.3L405.1 465.4L405.6 454.9L406.0 455.2L406.4 466.4L406.9 458.4L407.3 460.9L407.8 453.7L408.2 457.8L408.6 457.6L409.1 459.5L409.5 449.4L409.9 447.0L410.4 459.6L410.8 450.9L411.2 462.4L411.7 456.5L412.1 451.6L412.6 446.1L413.0 459.7L413.4 457.5L413.9 455.6L414.3 467.7L414.7 456.9L415.2 461.8L415.6 454.3L416.0 465.1L416.5 471.2L416.9 456.7L417.3 455.1L417.8 460.9L418.2 450.6L418.7 458.9L419.1 461.3L419.5 453.5L420.0 468.2L420.4 461.8L420.8 457.1L421.3 440.7L421.7 458.1L422.1 440.7L422.6 461.7L423.0 454.8L423.5 445.0L423.9 461.9L424.3 440.0L424.8 461.6L425.2 475.6L425.6 476.4L426.1 449.6L426.5 465.9L426.9 472.1L427.4 452.6L427.8 451.3L428.3 452.5L428.7 455.5L429.1 455.1L429.6 450.3L430.0 454.3L430.4 443.8L430.9 466.8L431.3 459.9L431.7 450.5L432.2 459.9L432.6 449.6L433.0 439.9L433.5 457.0L433.9 459.0L434.4 460.9L434.8 463.6L435.2 462.0L435.7 451.9L436.1 456.7L436.5 456.4L437.0 441.2L437.4 449.7L437.8 453.0L438.3 458.1L438.7 451.7L439.2 458.2L439.6 466.1L440.0 445.4L440.5 453.3L440.9 464.6L441.3 448.4L441.8 454.2L442.2 469.4L442.6 444.2L443.1 454.3L443.5 449.9L444.0 455.4L444.4 458.2L444.8 469.3L445.3 449.3L445.7 456.7L446.1 459.2L446.6 454.2L447.0 456.4L447.4 451.6L447.9 459.9L448.3 457.3L448.7 473.9L449.2 460.3L449.6 451.6L450.1 446.4L450.5 459.9L450.9 457.9L451.4 444.4L451.8 459.6L452.2 451.1L452.7 443.6L453.1 456.7L453.5 447.2L454.0 462.6L454.4 455.3L454.9 457.6L455.3 456.1L455.7 448.0L456.2 462.3L456.6 461.5L457.0 453.0L457.5 465.3L457.9 453.0L458.3 452.4L458.8 459.2L459.2 452.8L459.7 469.3L460.1 450.9L460.5 469.2L461.0 462.5L461.4 461.4L461.8 460.2L462.3 450.2L462.7 430.3L463.1 489.8L463.6 452.7L464.0 444.4L464.4 456.9L464.9 454.1L465.3 447.1L465.8 454.8L466.2 467.2L466.6 439.4L467.1 472.7L467.5 457.3L467.9 453.7L468.4 449.3L468.8 438.1L469.2 459.1L469.7 465.3L470.1 456.2L470.6 448.8L471.0 465.6L471.4 465.1L471.9 478.2L472.3 463.1L472.7 459.0L473.2 460.4L473.6 453.4L474.0 462.5L474.5 464.0L474.9 460.1L475.4 457.4L475.8 480.0L476.2 456.9L476.7 451.0L477.1 447.6L477.5 443.4L478.0 463.2L478.4 460.3L478.8 441.9L479.3 462.7L479.7 457.2L480.1 452.8L480.6 467.8L481.0 453.3L481.5 457.2L481.9 471.5L482.3 454.7L482.8 447.5L483.2 471.8L483.6 450.6L484.1 455.3L484.5 453.2L484.9 453.5L485.4 446.6L485.8 458.7L486.3 450.0L486.7 460.2L487.1 451.2L487.6 463.4L488.0 457.8L488.4 443.2L488.9 453.4L489.3 458.2L489.7 466.1L490.2 463.2L490.6 455.4L491.1 449.5L491.5 453.6L491.9 452.8L492.4 457.3L492.8 446.2L493.2 460.1L493.7 461.3L494.1 449.9L494.5 456.5L495.0 459.2L495.4 461.5L495.9 459.0L496.3 452.0L496.7 454.2L497.2 466.6L497.6 453.6L498.0 455.5L498.5 464.9L498.9 450.8L499.3 459.2L499.8 459.6L500.2 450.7L500.6 446.5L501.1 462.4L501.5 453.5L502.0 463.9L502.4 460.9L502.8 447.5L503.3 462.1L503.7 450.5L504.1 439.4L504.6 460.4L505.0 453.0L505.4 457.7L505.9 462.3L506.3 439.9L506.8 456.3L507.2 470.0L507.6 450.2L508.1 473.0L508.5 447.8L508.9 461.6L509.4 455.8L509.8 447.0L510.2 456.0L510.7 468.0L511.1 470.4L511.6 447.6L512.0 451.1L512.4 463.4L512.9 450.1L513.3 453.0L513.7 451.8L514.2 474.9L514.6 459.4L515.0 449.8L515.5 451.1L515.9 450.0L516.3 455.6L516.8 453.1L517.2 464.5L517.7 459.6L518.1 434.2L518.5 449.9L519.0 460.5L519.4 447.9L519.8 463.2L520.3 454.9L520.7 461.2L521.1 455.7L521.6 462.5L522.0 469.6L522.5 448.3L522.9 454.6L523.3 461.4L523.8 455.4L524.2 449.1L524.6 464.7L525.1 457.8L525.5 452.7L525.9 452.8L526.4 459.6L526.8 473.7L527.3 447.1L527.7 454.4L528.1 456.9L528.6 459.2L529.0 454.9L529.4 460.3L529.9 465.1L530.3 462.8L530.7 461.7L531.2 461.8L531.6 466.2L532.0 451.9L532.5 467.4L532.9 451.7L533.4 465.0L533.8 454.2L534.2 446.1L534.7 455.4L535.1 462.8L535.5 456.6L536.0 455.8L536.4 475.6L536.8 461.8L537.3 455.7L537.7 460.7L538.2 456.3L538.6 451.1L539.0 450.9L539.5 449.8L539.9 452.3L540.3 459.3L540.8 457.1L541.2 459.1L541.6 459.5L542.1 458.4L542.5 470.7L543.0 459.6L543.4 457.2L543.8 464.7L544.3 457.2L544.7 452.9L545.1 458.3L545.6 433.4L546.0 458.6L546.4 471.5L546.9 449.2L547.3 456.0L547.7 452.8L548.2 459.4L548.6 452.6L549.1 474.8L549.5 450.2L549.9 454.0L550.4 456.8L550.8 461.6L551.2 451.9L551.7 460.8L552.1 455.2L552.5 461.0L553.0 474.8L553.4 457.2L553.9 455.4L554.3 451.0L554.7 463.9L555.2 457.2L555.6 452.1L556.0 455.8L556.5 447.1L556.9 441.2L557.3 464.2L557.8 472.2L558.2 450.2L558.7 444.8L559.1 449.6L559.5 450.5L560.0 461.9L560.4 462.6L560.8 449.9L561.3 464.2L561.7 471.4L562.1 464.9L562.6 441.7L563.0 462.4L563.4 435.0L563.9 455.1L564.3 462.9L564.8 446.6L565.2 457.6L565.6 465.6L566.1 446.6L566.5 461.6L566.9 455.2L567.4 457.1L567.8 459.5L568.2 454.4L568.7 462.5L569.1 471.6L569.6 474.5L570.0 467.0L570.4 463.0L570.9 438.1L571.3 456.5L571.7 452.6L572.2 456.0L572.6 463.3L573.0 481.5L573.5 463.7L573.9 458.3L574.4 453.1L574.8 452.8L575.2 457.9L575.7 458.4L576.1 449.5L576.5 456.8L577.0 451.1L577.4 452.3L577.8 455.3L578.3 446.6L578.7 461.5L579.1 459.8L579.6 463.4L580.0 463.3L580.5 452.0L580.9 476.4L581.3 456.8L581.8 452.5L582.2 447.6L582.6 450.6L583.1 447.4L583.5 467.0L583.9 462.0L584.4 453.4L584.8 445.6L585.3 456.1L585.7 463.8L586.1 459.8L586.6 462.2L587.0 463.8L587.4 445.1L587.9 461.9L588.3 456.8L588.7 439.8L589.2 447.6L589.6 425.2L590.1 461.8L590.5 453.7L590.9 444.1L591.4 452.0L591.8 447.0L592.2 456.2L592.7 452.9L593.1 458.6L593.5 453.6L594.0 446.6L594.4 468.3L594.8 457.5L595.3 455.1L595.7 461.5L596.2 459.4L596.6 450.7L597.0 441.1L597.5 452.0L597.9 454.4L598.3 469.3L598.8 441.7L599.2 489.8L599.6 457.2L600.1 465.8L600.5 457.4L601.0 465.7L601.4 456.4L601.8 453.3L602.3 456.7L602.7 454.8L603.1 463.7L603.6 445.6L604.0 462.2L604.4 471.4L604.9 458.5L605.3 463.0L605.8 465.0L606.2 436.8L606.6 454.7L607.1 466.4L607.5 458.1L607.9 445.6L608.4 451.6L608.8 458.2L609.2 456.0L609.7 457.9L610.1 457.3L610.5 451.2L611.0 457.7L611.4 457.1L611.9 464.0L612.3 451.8L612.7 461.8L613.2 455.8L613.6 439.7L614.0 465.3L614.5 465.9L614.9 461.5L615.3 473.8L615.8 454.1L616.2 462.0L616.7 471.8L617.1 468.7L617.5 452.1L618.0 463.1L618.4 459.9L618.8 454.3L619.3 446.2L619.7 441.6L620.1 448.8L620.6 455.8L621.0 455.5L621.5 442.7L621.9 445.6L622.3 459.4L622.8 453.3L623.2 454.7L623.6 456.6L624.1 460.9L624.5 467.5L624.9 461.2L625.4 469.2L625.8 447.3L626.3 452.7L626.7 466.5L627.1 445.9L627.6 449.9L628.0 472.1L628.4 442.4L628.9 450.5L629.3 440.6L629.7 466.7L630.2 452.8L630.6 453.6L631.0 455.4L631.5 430.3L631.9 448.6L632.4 468.8L632.8 466.8L633.2 468.0L633.7 461.4L634.1 461.8L634.5 454.1L635.0 454.9L635.4 456.7L635.8 462.3L636.3 460.5L636.7 449.4L637.2 450.9L637.6 456.2L638.0 459.5L638.5 444.6L638.9 461.7L639.3 451.8L639.8 447.8L640.2 460.2L640.6 447.0L641.1 470.5L641.5 444.7L642.0 454.6L642.4 448.9L642.8 467.8L643.3 441.5L643.7 485.9L644.1 459.0L644.6 453.5L645.0 461.0L645.4 453.8L645.9 463.7L646.3 448.8L646.7 432.9L647.2 454.4L647.6 442.9L648.1 456.6L648.5 522.1L648.9 451.3L649.4 444.0L649.8 531.2L650.2 458.9L650.7 458.7L651.1 448.7L651.5 461.4L652.0 383.3L652.4 443.7L652.9 446.0L653.3 446.6L653.7 463.9L654.2 464.8L654.6 465.1L655.0 466.8L655.5 449.9L655.9 453.0L656.3 460.2L656.8 454.9L657.2 458.7L657.7 454.4L658.1 447.9L658.5 397.2L659.0 465.3L659.4 475.2L659.8 439.7L660.3 455.6L660.7 487.2L661.1 461.0L661.6 456.6L662.0 474.4L662.4 463.2L662.9 448.2L663.3 443.9L663.8 487.2L664.2 473.9L664.6 450.7L665.1 445.6L665.5 454.6L665.9 472.7L666.4 447.5L666.8 447.4L667.2 450.3L667.7 462.9L668.1 415.3L668.6 447.4L669.0 463.7L669.4 504.0L669.9 451.2L670.3 456.8L670.7 446.2L671.2 464.1L671.6 458.0L672.0 460.7L672.5 450.1L672.9 460.0L673.4 447.4L673.8 449.9L674.2 481.5L674.7 458.3L675.1 469.8L675.5 432.9L676.0 450.5L676.4 450.5L676.8 451.9L677.3 459.4L677.7 454.9L678.1 474.2L678.6 444.3L679.0 461.9L679.5 470.3L679.9 487.7L680.3 466.9L680.8 446.6L681.2 444.2L681.6 473.4L682.1 445.8L682.5 446.2L682.9 464.0L683.4 436.8L683.8 466.0L684.3 483.4L684.7 452.8L685.1 461.3L685.6 454.1L686.0 446.0L686.4 471.6L686.9 465.4L687.3 467.3L687.7 463.5L688.2 410.2L688.6 446.7L689.1 449.7L689.5 453.1L689.9 463.3L690.4 463.6L690.8 487.7L691.2 450.8L691.7 465.9L692.1 465.6L692.5 469.6L693.0 449.8L693.4 450.5L693.8 434.2L694.3 468.8L694.7 454.9L695.2 442.3L695.6 453.4L696.0 445.8L696.5 439.1L696.9 443.3L697.3 462.3L697.8 444.2L698.2 447.6L698.6 461.9L699.1 474.2L699.5 458.3L700.0 450.0L700.4 469.9L700.8 489.3L701.3 452.4L701.7 439.2L702.1 473.0L702.6 444.1L703.0 459.5L703.4 453.7L703.9 458.8L704.3 444.9L704.8 444.4L705.2 455.9L705.6 473.4L706.1 448.0L706.5 499.6L706.9 449.4L707.4 453.8L707.8 443.2L708.2 462.4L708.7 452.7L709.1 425.7L709.5 451.7L710.0 442.6L710.4 441.8L710.9 450.7L711.3 472.9L711.7 463.1L712.2 434.2L712.6 452.3L713.0 467.4L713.5 443.2L713.9 447.7L714.3 466.9L714.8 455.0L715.2 462.9L715.7 458.8L716.1 451.3L716.5 466.8L717.0 451.3L717.4 464.7L717.8 463.6L718.3 450.5L718.7 463.9L719.1 453.5L719.6 456.6L720.0 434.2L720.5 448.1L720.9 461.4L721.3 479.5L721.8 463.2L722.2 449.5L722.6 463.2L723.1 466.6L723.5 467.3L723.9 449.0L724.4 439.4L724.8 468.8L725.2 442.5L725.7 439.3L726.1 458.4L726.6 458.5L727.0 454.8L727.4 462.1L727.9 430.3L728.3 451.6L728.7 453.0L729.2 454.8L729.6 460.9L730.0 451.2L730.5 439.3L730.9 469.1L731.4 444.4L731.8 473.4L732.2 470.2L732.7 469.5L733.1 451.5L733.5 450.9L734.0 439.4L734.4 460.8L734.8 447.5L735.3 465.9L735.7 460.2L736.2 456.3L736.6 450.4L737.0 461.2L737.5 456.8L737.9 463.6L738.3 426.5L738.8 426.5L739.2 488.5L739.6 488.5L740.1 456.0L740.5 472.2L741.0 429.0L741.4 468.7L741.8 465.9L742.3 448.1L742.7 452.3L743.1 458.1L743.6 468.2L744.0 470.0L744.4 440.6L744.9 454.0L745.3 468.5L745.7 473.5L746.2 470.9L746.6 419.5L747.1 481.5L747.5 458.9L747.9 460.3L748.4 473.6L748.8 469.7L749.2 466.1L749.7 426.5L750.1 460.3L750.5 453.8L751.0 444.4L751.4 470.6L751.9 449.8L752.3 452.3L752.7 465.9L753.2 451.2L753.6 467.8L754.0 466.6L754.5 482.1L754.9 458.3L755.3 469.1L755.8 474.7L756.2 462.1L756.7 482.6L757.1 442.0L757.5 450.8L758.0 471.0L758.4 472.8L758.8 452.1L759.3 445.5L759.7 467.0L760.1 448.2L760.6 454.1L761.0 449.9L761.4 456.7L761.9 443.7L762.3 464.1L762.8 467.5L763.2 473.2L763.6 444.2L764.1 465.1L764.5 468.4L764.9 467.3L765.4 461.8L765.8 470.9L766.2 460.2L766.7 463.8L767.1 463.0L767.6 467.5L768.0 456.6L768.4 462.0L768.9 455.7L769.3 454.2L769.7 453.2L770.2 462.8L770.6 465.7L771.0 448.5L771.5 474.3L771.9 464.8L772.4 460.2L772.8 460.7L773.2 446.1L773.7 461.8L774.1 446.4L774.5 473.0L775.0 443.6L775.4 452.2L775.8 451.6L776.3 455.6L776.7 451.7L777.1 470.3L777.6 446.6L778.0 462.8L778.5 446.2L778.9 456.0L779.3 471.1L779.8 444.6L780.2 458.5L780.6 461.3L781.1 454.3L781.5 461.6L781.9 462.9L782.4 455.8L782.8 455.4L783.3 440.3L783.7 456.5L784.1 445.3L784.6 455.5L785.0 455.5L785.4 458.5L785.9 465.0L786.3 457.7L786.7 464.0L787.2 439.0L787.6 507.4L788.1 461.9L788.5 457.6L788.9 461.5L789.4 468.9L789.8 469.4L790.2 450.7L790.7 457.7L791.1 457.3L791.5 458.6L792.0 441.1L792.4 455.5L792.8 455.1L793.3 461.0L793.7 463.6L794.2 440.5L794.6 446.0L795.0 460.8L795.5 456.6L795.9 466.6L796.3 446.4L796.8 478.2L797.2 450.8L797.6 445.0L798.1 441.5L798.5 467.3L799.0 445.0L799.4 464.8L799.8 465.3L800.3 471.5L800.7 444.3L801.1 438.9L801.6 463.5L802.0 465.3L802.4 460.7L802.9 446.0L803.3 462.9L803.8 464.3L804.2 444.0L804.6 459.9L805.1 464.5L805.5 462.6L805.9 447.0L806.4 468.9L806.8 445.3L807.2 470.9L807.7 453.8L808.1 465.3L808.5 448.4L809.0 435.5L809.4 469.8L809.9 450.2L810.3 447.7L810.7 451.5L811.2 448.6L811.6 464.9L812.0 460.8L812.5 445.2L812.9 473.0L813.3 466.7L813.8 459.6L814.2 453.2L814.7 463.5L815.1 451.4L815.5 450.0L816.0 478.2L816.4 460.3L816.8 419.2L817.3 467.2L817.7 464.3L818.1 455.4L818.6 457.5L819.0 438.7L819.5 453.8L819.9 468.7L820.3 440.0L820.8 446.6L821.2 455.9L821.6 429.0L822.1 468.2L822.5 447.0L822.9 465.8L823.4 471.4L823.8 454.8L824.2 454.3L824.7 450.3L825.1 449.8L825.6 441.5L826.0 466.2L826.4 446.2L826.9 467.8L827.3 449.4L827.7 455.0L828.2 426.5L828.6 446.4L829.0 457.2L829.5 444.8L829.9 447.4L830.4 455.5L830.8 463.2L831.2 465.2L831.7 462.8L832.1 459.2L832.5 457.2L833.0 450.0L833.4 448.5L833.8 466.4L834.3 464.8L834.7 489.8L835.2 454.9L835.6 468.3L836.0 439.3L836.5 463.1L836.9 445.1L837.3 481.5L837.8 453.9L838.2 454.9L838.6 450.4L839.1 453.9L839.5 455.2L839.9 464.8L840.4 450.1L840.8 453.6L841.3 459.1L841.7 466.0L842.1 463.3L842.6 457.6L843.0 429.0L843.4 463.9L843.9 462.3L844.3 466.6L844.7 463.1L845.2 454.9L845.6 464.2L846.1 456.4L846.5 453.9L846.9 457.3L847.4 446.8L847.8 470.6L848.2 455.2L848.7 482.6L849.1 453.1L849.5 473.8L850.0 451.2L850.4 427.7L850.9 456.2L851.3 461.1L851.7 465.2L852.2 423.9L852.6 467.0L853.0 449.3L853.5 451.0L853.9 457.2L854.3 451.3L854.8 463.6L855.2 456.2L855.6 456.5L856.1 450.9L856.5 457.7L857.0 458.5L857.4 458.4L857.8 464.0L858.3 451.3L858.7 452.3L859.1 441.6L859.6 474.0L860.0 449.3L860.4 447.8L860.9 442.5L861.3 429.0L861.8 469.9L862.2 466.5L862.6 454.0L863.1 451.4L863.5 468.2L863.9 461.2L864.4 461.4L864.8 456.3L865.2 453.3L865.7 460.1L866.1 435.5L866.6 451.5L867.0 483.4L867.4 458.1L867.9 445.7L868.3 452.1L868.7 449.7L869.2 487.7L869.6 465.3L870.0 450.7L870.5 445.9L870.9 466.8L871.4 448.8L871.8 460.7L872.2 463.5L872.7 465.9L873.1 455.7L873.5 457.3L874.0 449.6L874.4 457.3L874.8 449.6L875.3 451.8L875.7 454.0L876.1 459.3L876.6 458.3L877.0 466.0L877.5 455.0L877.9 457.2L878.3 453.5L878.8 466.3L879.2 456.5L879.6 456.4L880.1 450.3L880.5 483.4L880.9 452.4L881.4 446.2L881.8 450.4L882.3 461.0L882.7 462.4L883.1 459.6L883.6 449.0L884.0 439.9L884.4 458.7L884.9 464.0L885.3 452.9L885.7 427.2L886.2 466.9L886.6 495.0L887.1 458.1L887.5 449.6L887.9 470.0L888.4 468.1L888.8 451.5L889.2 470.4L889.7 455.8L890.1 453.1L890.5 458.2L891.0 468.1L891.4 457.6L891.8 435.5L892.3 453.3L892.7 466.2L893.2 445.0L893.6 458.9L894.0 456.9L894.5 446.4L894.9 463.6L895.3 480.8L895.8 463.2L896.2 448.9L896.6 461.4L897.1 452.1L897.5 467.1L898.0 446.3L898.4 443.7L898.8 456.6L899.3 469.4L899.7 452.6L900.1 444.4L900.6 445.0L901.0 448.1L901.4 464.4L901.9 441.4L902.3 470.4L902.8 444.6L903.2 448.6L903.6 444.7L904.1 460.6L904.5 470.4L904.9 480.8L905.4 459.2L905.8 457.5L906.2 449.3L906.7 458.6L907.1 454.9L907.5 452.3L908.0 457.0L908.4 452.1L908.9 456.0L909.3 459.2L909.7 463.8L910.2 442.2L910.6 455.3L911.0 468.8L911.5 463.1L911.9 430.3L912.3 461.9L912.8 445.1L913.2 469.7L913.7 451.6L914.1 455.4L914.5 469.9L915.0 456.4L915.4 458.0L915.8 451.5L916.3 461.9L916.7 453.6L917.1 475.2L917.6 468.8L918.0 448.4L918.5 445.6L918.9 457.1L919.3 463.5L919.8 445.1L920.2 465.7L920.6 449.6L921.1 449.8L921.5 468.3L921.9 441.1L922.4 455.3L922.8 439.4L923.2 456.4L923.7 447.1L924.1 444.8L924.6 448.9L925.0 448.5L925.4 444.5L925.9 452.6L926.3 463.7L926.7 489.8L927.2 445.5L927.6 464.0L928.0 464.7L928.5 461.0L928.9 457.8L929.4 426.5L929.8 451.7L930.2 451.0L930.7 456.2L931.1 460.6L931.5 442.6L932.0 463.0L932.4 448.7L932.8 454.8L933.3 458.9L933.7 462.4L934.2 463.7L934.6 460.8L935.0 464.9L935.5 463.5L935.9 463.0L936.3 427.7L936.8 468.6L937.2 458.5L937.6 448.4L938.1 459.7L938.5 462.4L938.9 442.1L939.4 446.3L939.8 446.9L940.3 444.3L940.7 460.6L941.1 419.5L941.6 444.8L942.0 463.0L942.4 458.3L942.9 452.8L943.3 452.9L943.7 460.0L944.2 446.2L944.6 458.9L945.1 449.0L945.5 445.2L945.9 449.7L946.4 448.9L946.8 469.7L947.2 471.3L947.7 463.8L948.1 451.8L948.5 440.5L949.0 470.4L949.4 453.6L949.9 466.3L950.3 465.0L950.7 460.0L951.2 449.4L951.6 454.6L952.0 444.0L952.5 467.8L952.9 447.2L953.3 446.8L953.8 427.7L954.2 451.7L954.6 463.1L955.1 468.9L955.5 461.4L956.0 464.0L956.4 462.3L956.8 438.9L957.3 454.8L957.7 434.2L958.1 448.8L958.6 465.5L959.0 446.9L959.4 452.8L959.9 473.6L960.3 450.4L960.8 450.9L961.2 452.0L961.6 439.6L962.1 461.5L962.5 451.4L962.9 448.8L963.4 466.8L963.8 443.8L964.2 472.9L964.7 471.2L965.1 451.2L965.6 468.9L966.0 458.2L966.4 475.0L966.9 489.3L967.3 469.4L967.7 453.2L968.2 473.8L968.6 452.1L969.0 459.9L969.5 456.3L969.9 457.7L970.3 455.5L970.8 471.5L971.2 456.6L971.7 467.2L972.1 462.0L972.5 452.3L973.0 482.1L973.4 482.1L973.8 431.6L974.3 453.4L974.7 458.5L975.1 431.6L975.6 467.8L976.0 448.1L976.5 484.1L976.9 484.1L977.3 452.0L977.8 468.8L978.2 428.5L978.6 428.3L979.1 448.4L979.5 448.2L979.9 445.6L980.4 461.1L980.8 459.3L981.3 448.5L981.7 461.6L982.1 445.4L982.6 474.4L983.0 449.8L983.4 458.9L983.9 446.2L984.3 453.6L984.7 456.7L985.2 468.8L985.6 462.1L986.1 440.4L986.5 466.0L986.9 432.4L987.4 432.4L987.8 458.4L988.2 461.3L988.7 467.0L989.1 466.2L989.5 434.2L990.0 463.3L990.4 462.9L990.8 480.0L991.3 480.0L991.7 450.8L992.2 468.4L992.6 448.8L993.0 467.1L993.5 444.6L993.9 459.8L994.3 471.2L994.8 451.3L995.2 446.9L995.6 457.2L996.1 479.0L996.5 478.2L997.0 448.5L997.4 459.7L997.8 462.3L998.3 457.4L998.7 443.7L999.1 467.3L999.6 442.7L1000.0 448.2L1000.4 464.4L1000.9 451.9L1001.3 449.4L1001.8 469.9L1002.2 457.9L1002.6 454.3L1003.1 435.5L1003.5 435.0L1003.9 467.8L1004.4 459.1L1004.8 459.4L1005.2 473.4L1005.7 446.8L1006.1 462.8L1006.5 441.2L1007.0 447.6L1007.4 456.7L1007.9 449.0L1008.3 469.2L1008.7 460.5L1009.2 463.3L1009.6 470.9L1010.0 456.8L1010.5 458.6L1010.9 441.2L1011.3 464.3L1011.8 467.0L1012.2 462.1L1012.7 452.3L1013.1 452.5L1013.5 456.7L1014.0 462.2L1014.4 439.4L1014.8 438.1L1015.3 459.8L1015.7 472.0L1016.1 469.9L1016.6 455.4L1017.0 456.3L1017.5 455.7L1017.9 466.6L1018.3 459.2L1018.8 467.0L1019.2 452.8L1019.6 449.4L1020.1 443.1L1020.5 465.8L1020.9 462.0L1021.4 467.3L1021.8 453.6L1022.2 449.2L1022.7 470.8L1023.1 471.1L1023.6 451.3L1024.0 457.0L1024.4 453.7L1024.9 466.0L1025.3 466.3L1025.7 453.2L1026.2 465.5L1026.6 473.7L1027.0 456.2L1027.5 456.5L1027.9 446.1L1028.4 458.5L1028.8 464.6L1029.2 465.1L1029.7 455.1L1030.1 456.7L1030.5 450.2L1031.0 480.0L1031.4 480.0L1031.8 448.0L1032.3 458.6L1032.7 462.0L1033.2 459.0L1033.6 467.5L1034.0 459.2L1034.5 460.3L1034.9 454.7L1035.3 442.3L1035.8 442.6L1036.2 461.9L1036.6 450.4L1037.1 453.7L1037.5 448.6L1037.9 456.7L1038.4 476.9L1038.8 462.1L1039.3 465.6L1039.7 477.4L1040.1 451.3L1040.6 449.7L1041.0 452.2L1041.4 454.1L1041.9 461.9L1042.3 449.7L1042.7 454.8L1043.2 463.0L1043.6 467.5L1044.1 443.0L1044.5 450.0L1044.9 464.8L1045.4 457.2L1045.8 462.5L1046.2 455.3L1046.7 459.3L1047.1 431.6L1047.5 431.6L1048.0 465.6L1048.4 462.5L1048.9 450.9L1049.3 475.6L1049.7 461.7L1050.2 475.6L1050.6 461.0L1051.0 470.6L1051.5 458.1L1051.9 459.4L1052.3 469.0L1052.8 435.0L1053.2 465.6L1053.6 460.9L1054.1 460.6L1054.5 454.0L1055.0 447.5L1055.4 463.9L1055.8 442.4L1056.3 446.1L1056.7 448.1L1057.1 465.3L1057.6 447.1L1058.0 458.1L1058.4 453.1L1058.9 459.9L1059.3 449.7L1059.8 444.7L1060.2 444.6L1060.6 459.2L1061.1 423.9L1061.5 441.1L1061.9 467.2L1062.4 440.8L1062.8 471.6L1063.2 451.0L1063.7 450.5L1064.1 440.7L1064.6 453.9L1065.0 462.2L1065.4 465.7L1065.9 470.7L1066.3 448.6L1066.7 459.6L1067.2 464.8L1067.6 451.1L1068.0 465.4L1068.5 461.8L1068.9 462.0L1069.3 438.8L1069.8 440.9L1070.2 458.7L1070.7 474.2L1071.1 453.9L1071.5 456.2L1072.0 453.1L1072.4 450.8L1072.8 460.5L1073.3 436.8L1073.7 447.8L1074.1 454.7L1074.6 461.4L1075.0 462.2L1075.5 449.4L1075.9 469.0L1076.3 458.7L1076.8 465.2L1077.2 472.2L1077.6 450.4L1078.1 457.3L1078.5 456.6L1078.9 447.4L1079.4 473.3L1079.8 457.7L1080.3 453.8L1080.7 447.8L1081.1 468.9L1081.6 449.1L1082.0 454.6L1082.4 451.0L1082.9 476.9L1083.3 450.9L1083.7 457.0L1084.2 461.6L1084.6 460.7L1085.0 467.3L1085.5 457.3L1085.9 457.9L1086.4 452.3L1086.8 446.1L1087.2 460.8L1087.7 441.7L1088.1 464.1L1088.5 458.4L1089.0 465.3L1089.4 465.6L1089.8 441.0L1090.3 451.3L1090.7 468.8L1091.2 451.3L1091.6 451.8L1092.0 459.5L1092.5 456.7L1092.9 460.2L1093.3 462.8L1093.8 457.9L1094.2 443.2L1094.6 441.6L1095.1 460.0L1095.5 465.0L1096.0 431.6L1096.4 447.4L1096.8 453.2L1097.3 463.2L1097.7 453.1L1098.1 459.2L1098.6 451.5L1099.0 461.3L1099.4 472.7L1099.9 456.3L1100.3 448.8L1100.7 468.8L1101.2 458.1L1101.6 447.6L1102.1 461.0L1102.5 428.3L1102.9 448.1L1103.4 446.0L1103.8 467.1L1104.2 439.5L1104.7 474.7L1105.1 462.5L1105.5 449.1L1106.0 451.3L1106.4 435.0L1106.9 464.1L1107.3 454.9L1107.7 450.2L1108.2 451.0L1108.6 461.7L1109.0 451.2L1109.5 448.7L1109.9 453.7L1110.3 451.4L1110.8 440.9L1111.2 462.1L1111.7 455.2L1112.1 462.5L1112.5 446.0L1113.0 461.3L1113.4 451.9L1113.8 455.5L1114.3 483.4L1114.7 449.7L1115.1 457.9L1115.6 441.9L1116.0 448.2L1116.5 443.0L1116.9 458.7L1117.3 447.1L1117.8 448.9L1118.2 463.5L1118.6 454.1L1119.1 430.8L1119.5 457.3L1119.9 443.2L1120.4 464.6L1120.8 474.8L1121.2 461.8L1121.7 463.8L1122.1 456.8L1122.6 451.0L1123.0 478.2L1123.4 452.1L1123.9 464.7L1124.3 450.8L1124.7 442.6L1125.2 442.8L1125.6 447.6L1126.0 440.2L1126.5 448.2L1126.9 472.8L1127.4 460.2L1127.8 450.8L1128.2 452.6L1128.7 465.5L1129.1 466.4L1129.5 446.8L1130.0 471.1L1130.4 441.8L1130.8 456.8L1131.3 453.8L1131.7 492.9L1132.2 463.3L1132.6 449.7L1133.0 472.5L1133.5 471.8L1133.9 469.9L1134.3 456.5L1134.8 430.3L1135.2 449.2L1135.6 460.9L1136.1 459.2L1136.5 459.5L1136.9 463.0L1137.4 446.8L1137.8 454.3L1138.3 455.3L1138.7 463.6L1139.1 454.3L1139.6 457.1L1140.0 457.8L1140.4 445.3L1140.9 475.1L1141.3 454.3L1141.7 468.2L1142.2 435.5L1142.6 450.7L1143.1 468.4L1143.5 458.0L1143.9 463.2L1144.4 447.0L1144.8 467.3L1145.2 474.7L1145.7 451.6L1146.1 460.7L1146.5 460.3L1147.0 445.6L1147.4 466.3L1147.9 460.9L1148.3 455.4L1148.7 452.6L1149.2 462.4L1149.6 446.1L1150.0 461.3L1150.5 442.2L1150.9 460.6L1151.3 455.5L1151.8 460.5L1152.2 463.7L1152.6 470.4L1153.1 461.1L1153.5 443.3L1154.0 445.0L1154.4 460.6L1154.8 462.5L1155.3 464.4L1155.7 469.6L1156.1 450.0L1156.6 455.7L1157.0 462.1L1157.4 479.0L1157.9 451.4L1158.3 448.8L1158.8 467.0L1159.2 446.6L1159.6 468.6L1160.1 450.2L1160.5 467.1L1160.9 461.3L1161.4 451.8L1161.8 452.4L1162.2 446.3L1162.7 435.5L1163.1 450.3L1163.6 442.8L1164.0 457.1L1164.4 452.1L1164.9 465.2L1165.3 458.6L1165.7 470.9L1166.2 456.0L1166.6 454.9L1167.0 442.8L1167.5 447.0L1167.9 448.4L1168.3 460.8L1168.8 459.3L1169.2 460.6L1169.7 454.6L1170.1 448.9L1170.5 473.5L1171.0 462.4L1171.4 456.7L1171.8 462.4L1172.3 439.5L1172.7 458.0L1173.1 440.4L1173.6 444.6L1174.0 462.2L1174.5 452.8L1174.9 443.3L1175.3 480.8L1175.8 456.0L1176.2 462.8L1176.6 456.4L1177.1 460.7L1177.5 456.1L1177.9 446.4L1178.4 430.8L1178.8 455.6L1179.3 454.8L1179.7 448.0L1180.1 460.0L1180.6 468.1L1181.0 445.3L1181.4 466.8L1181.9 447.2L1182.3 467.1L1182.7 468.0L1183.2 448.0L1183.6 441.2L1184.0 467.1L1184.5 441.3L1184.9 465.6L1185.4 422.1L1185.8 449.6L1186.2 459.1L1186.7 483.4L1187.1 460.2L1187.5 461.0L1188.0 460.0L1188.4 462.9L1188.8 440.7L1189.3 460.8L1189.7 464.5L1190.2 452.8L1190.6 445.8L1191.0 449.4L1191.5 469.3L1191.9 455.3L1192.3 455.5L1192.8 441.8L1193.2 444.4L1193.6 451.5L1194.1 444.2L1194.5 461.1L1195.0 431.6L1195.4 461.5L1195.8 452.8L1196.3 447.3L1196.7 466.6L1197.1 464.4L1197.6 455.2L1198.0 457.5L1198.4 460.4L1198.9 451.7L1199.3 457.2L1199.7 456.1L1200.2 459.8L1200.6 448.6L1201.1 461.7L1201.5 466.9L1201.9 463.3L1202.4 456.0L1202.8 450.8L1203.2 435.0L1203.7 446.5L1204.1 467.8L1204.5 487.2L1205.0 452.5L1205.4 452.1L1205.9 459.7L1206.3 458.7L1206.7 452.0L1207.2 447.9L1207.6 471.1L1208.0 454.1L1208.5 464.8L1208.9 450.3L1209.3 442.6L1209.8 456.4L1210.2 458.1L1210.7 455.0L1211.1 448.9L1211.5 451.1L1212.0 455.2L1212.4 461.1L1212.8 464.7L1213.3 458.9L1213.7 434.2L1214.1 458.0L1214.6 442.8L1215.0 461.8L1215.4 454.1L1215.9 457.1L1216.3 474.3L1216.8 464.0L1217.2 443.8L1217.6 470.6L1218.1 467.4L1218.5 422.1L1218.9 462.8L1219.4 450.2L1219.8 450.7L1220.2 441.6L1220.7 463.2L1221.1 463.2L1221.6 473.0L1222.0 457.8L1222.4 470.0L1222.9 426.5L1223.3 437.4" fill="none" stroke="#0000ff" stroke-opacity="0.72" stroke-width="1.6" stroke-linejoin="round" clip-path="url(#c2)"/>
<line x1="73.6" x2="1279.0" y1="456.5" y2="456.5" stroke="#808080" stroke-opacity="0.55" stroke-width="1.1"/>
<line x1="73.6" x2="1279.0" y1="438.07" y2="438.07" stroke="#ff0000" stroke-opacity="0.7" stroke-width="1.75" stroke-dasharray="6.475 2.8"/>
<line x1="73.6" x2="1279.0" y1="475.87" y2="475.87" stroke="#ff0000" stroke-opacity="0.7" stroke-width="1.75" stroke-dasharray="6.475 2.8"/>
<g id="axes" stroke="#000" stroke-width="0.93" fill="none">
<rect x="73.6" y="50.6" width="1205.4" height="325.9"/>
<rect x="73.6" y="376.5" width="1205.4" height="162.89999999999998"/>
<line x1="69.5" x2="73.6" y1="346.00" y2="346.00"/>
<line x1="69.5" x2="73.6" y1="301.87" y2="301.87"/>
<line x1="69.5" x2="73.6" y1="257.73" y2="257.73"/>
<line x1="69.5" x2="73.6" y1="213.60" y2="213.60"/>
<line x1="69.5" x2="73.6" y1="169.47" y2="169.47"/>
<line x1="69.5" x2="73.6" y1="125.33" y2="125.33"/>
<line x1="69.5" x2="73.6" y1="81.20" y2="81.20"/>
<line x1="69.5" x2="73.6" y1="532.57" y2="532.57"/>
<line x1="69.5" x2="73.6" y1="494.77" y2="494.77"/>
<line x1="69.5" x2="73.6" y1="456.97" y2="456.97"/>
<line x1="69.5" x2="73.6" y1="419.17" y2="419.17"/>
<line x1="69.5" x2="73.6" y1="381.37" y2="381.37"/>
<line x1="78.55" x2="78.55" y1="539.4" y2="543.5"/>
<line x1="188.33" x2="188.33" y1="539.4" y2="543.5"/>
<line x1="298.42" x2="298.42" y1="539.4" y2="543.5"/>
<line x1="408.2" x2="408.2" y1="539.4" y2="543.5"/>
<line x1="518.0" x2="518.0" y1="539.4" y2="543.5"/>
<line x1="627.8" x2="627.8" y1="539.4" y2="543.5"/>
<line x1="737.9" x2="737.9" y1="539.4" y2="543.5"/>
<line x1="847.65" x2="847.65" y1="539.4" y2="543.5"/>
<line x1="957.45" x2="957.45" y1="539.4" y2="543.5"/>
<line x1="1067.2" x2="1067.2" y1="539.4" y2="543.5"/>
<line x1="1177.3" x2="1177.3" y1="539.4" y2="543.5"/>
</g>
<g id="ticklabels" font-size="11.67px">
<text x="65.0" y="350.30" text-anchor="end">800</text>
<text x="65.0" y="306.17" text-anchor="end">900</text>
<text x="65.0" y="262.03" text-anchor="end">1000</text>
<text x="65.0" y="217.90" text-anchor="end">1100</text>
<text x="65.0" y="173.77" text-anchor="end">1200</text>
<text x="65.0" y="129.63" text-anchor="end">1300</text>
<text x="65.0" y="85.50" text-anchor="end">1400</text>
<text x="65.0" y="536.87" text-anchor="end">−10</text>
<text x="65.0" y="499.07" text-anchor="end">−5</text>
<text x="65.0" y="461.27" text-anchor="end">0</text>
<text x="65.0" y="423.47" text-anchor="end">5</text>
<text x="65.0" y="385.67" text-anchor="end">10</text>
<text x="78.55" y="556.6" text-anchor="middle">2015</text>
<text x="188.33" y="556.6" text-anchor="middle">2016</text>
<text x="298.42" y="556.6" text-anchor="middle">2017</text>
<text x="408.2" y="556.6" text-anchor="middle">2018</text>
<text x="518.0" y="556.6" text-anchor="middle">2019</text>
<text x="627.8" y="556.6" text-anchor="middle">2020</text>
<text x="737.9" y="556.6" text-anchor="middle">2021</text>
<text x="847.65" y="556.6" text-anchor="middle">2022</text>
<text x="957.45" y="556.6" text-anchor="middle">2023</text>
<text x="1067.2" y="556.6" text-anchor="middle">2024</text>
<text x="1177.3" y="556.6" text-anchor="middle">2025</text>
</g>
<g id="axislabels" font-size="11.67px" text-anchor="middle">
<text x="676.3" y="573.5">Date</text>
<text transform="translate(29,215.5) rotate(-90)">Price</text>
<text transform="translate(33.3,459.2) rotate(-90)">Z-Score</text>
</g>
<text x="646.1" y="23.85" font-size="16.4px" font-weight="bold" text-anchor="middle">&amp;PL_CCB - Current: Z-Score: 2.59, Return: 2.78%, Date: 2025-06-06</text>
<text x="676.3" y="43.3" font-size="13.96px" text-anchor="middle">Z-Score &gt;= 2.5 Signal Strategy - Data from 1978 to 2025 (47 years)</text>
<rect x="93.9" y="53.5" width="211.1" height="45.8" rx="3.2" ry="3.2" fill="#fff" fill-opacity="0.8" stroke="#000" stroke-opacity="0.85" stroke-width="1.05"/>
<g id="infobox" font-size="11.67px">
<text x="97.6" y="66.70">Number of Z-Score &gt;= 2.5: 251</text>
<text x="97.6" y="80.05">Average Days Between Signals: 67</text>
<text x="97.6" y="93.40">Current Days Since Last Signal: 3</text>
</g>
<g id="legend1">
<rect x="1140.8" y="56.7" width="132.2" height="38.6" rx="2.3" ry="2.3" fill="#fff" fill-opacity="0.8" stroke="#ccc" stroke-opacity="0.8" stroke-width="0.93"/>
<line x1="1144.9" x2="1168.9" y1="66.4" y2="66.4" stroke="#000" stroke-width="1.17"/>
<path d="M1151 79.2l11.8 11.8m-11.8 0l11.8 -11.8" stroke="#008000" stroke-opacity="0.75" stroke-width="1.75" fill="none"/>
<text x="1177.9" y="70.5" font-size="11.67px">Close Price</text>
<text x="1177.9" y="88.3" font-size="11.67px">Z-Score &gt;= 2.5</text>
</g>
<g id="legend2">
<rect x="1140.8" y="382.5" width="132.2" height="38.6" rx="2.3" ry="2.3" fill="#fff" fill-opacity="0.8" stroke="#ccc" stroke-opacity="0.8" stroke-width="0.93"/>
<line x1="1144.9" x2="1168.9" y1="392.2" y2="392.2" stroke="#ff0000" stroke-opacity="0.7" stroke-width="1.75" stroke-dasharray="6.475 2.8"/>
<line x1="1144.9" x2="1168.9" y1="409.5" y2="409.5" stroke="#ff0000" stroke-opacity="0.7" stroke-width="1.75" stroke-dasharray="6.475 2.8"/>
<text x="1177.9" y="396.3" font-size="11.67px">Threshold +2.5</text>
<text x="1177.9" y="413.6" font-size="11.67px">Threshold -2.5</text>
</g>
</svg></body></html>
